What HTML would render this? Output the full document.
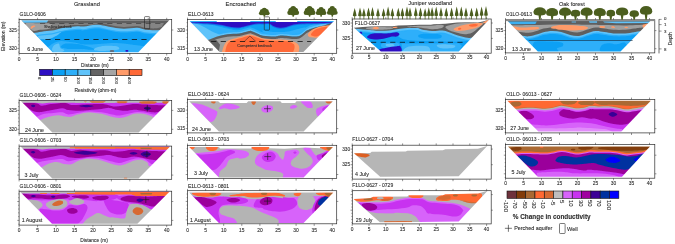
<!DOCTYPE html>
<html><head><meta charset="utf-8"><title>Resistivity panels</title>
<style>
html,body{margin:0;padding:0;background:#fff;}
svg{display:block;font-family:"Liberation Sans",sans-serif;}
text{stroke:#333;stroke-width:0.1px;}
</style></head>
<body>
<svg width="675" height="244" viewBox="0 0 675 244">
<defs>
<filter id="bl" x="-2%" y="-2%" width="104%" height="104%"><feGaussianBlur stdDeviation="0.35"/></filter>
<mask id="cpA1" maskUnits="userSpaceOnUse" x="0" y="0" width="675" height="244"><path d="M21.3 20.2L169.3 20.2L138.3 52.2L52.6 52.2Z" fill="#fff"/></mask>
<mask id="cpA2" maskUnits="userSpaceOnUse" x="0" y="0" width="675" height="244"><path d="M189.6 21L334 21L303.4 52L219.6 52Z" fill="#fff"/></mask>
<mask id="cpA3" maskUnits="userSpaceOnUse" x="0" y="0" width="675" height="244"><path d="M353.93 27.63L362.81 27.04L370.22 26.44L377.63 26.15L392.44 26.15L398.37 25.56L407.26 25.26L419.11 24.67L430.96 24.67L433.52 24.22L445.37 23.63L457.22 22.44L469.07 22.15L477.96 22.44L483.89 21.26L489.22 19.48L458.7 51.48L380.89 51.48Z" fill="#fff"/></mask>
<mask id="cpA4" maskUnits="userSpaceOnUse" x="0" y="0" width="675" height="244"><path d="M507.2 20.6L650.8 20.6L620.5 51.6L537.8 51.6Z" fill="#fff"/></mask>
<mask id="cpB1" maskUnits="userSpaceOnUse" x="0" y="0" width="675" height="244"><path d="M20.6 100.7L170.1 100.7L138.6 132.5L52.3 132.5Z" fill="#fff"/></mask>
<mask id="cpC1" maskUnits="userSpaceOnUse" x="0" y="0" width="675" height="244"><path d="M20.6 146.5L170.1 146.5L138.6 178.5L52.3 178.5Z" fill="#fff"/></mask>
<mask id="cpD1" maskUnits="userSpaceOnUse" x="0" y="0" width="675" height="244"><path d="M19.8 191.5L169.7 191.5L137.4 223.8L52 223.8Z" fill="#fff"/></mask>
<mask id="cpB2" maskUnits="userSpaceOnUse" x="0" y="0" width="675" height="244"><path d="M189.2 101.2L333 101.2L303.6 131.5L218.9 131.5Z" fill="#fff"/></mask>
<mask id="cpC2" maskUnits="userSpaceOnUse" x="0" y="0" width="675" height="244"><path d="M189.2 147L333 147L303.6 177.6L218.9 177.6Z" fill="#fff"/></mask>
<mask id="cpD2" maskUnits="userSpaceOnUse" x="0" y="0" width="675" height="244"><path d="M189.2 192.4L333.4 192.4L303.6 223L218.9 223Z" fill="#fff"/></mask>
<mask id="cpC3" maskUnits="userSpaceOnUse" x="0" y="0" width="675" height="244"><path d="M353.93 153.19L370.22 152.89L371.7 151.7L405.78 151.41L407.26 150.67L442.81 150.22L445.37 149.19L477.96 148.74L487.15 146.07L458.7 176.3L418.7 176.59L380.15 176.74Z" fill="#fff"/></mask>
<mask id="cpD3" maskUnits="userSpaceOnUse" x="0" y="0" width="675" height="244"><path d="M353.63 199.07L370.22 197.89L373.19 196.7L407.26 196.41L408.74 195.22L442.81 195.22L445.37 194.19L477.96 193.44L487.59 190.78L458.7 221.59L418.7 221.89L379.85 222.19Z" fill="#fff"/></mask>
<mask id="cpB4" maskUnits="userSpaceOnUse" x="0" y="0" width="675" height="244"><path d="M507.4 100.8L650.8 100.8L621.3 131.5L538.4 131.5Z" fill="#fff"/></mask>
<mask id="cpC4" maskUnits="userSpaceOnUse" x="0" y="0" width="675" height="244"><path d="M508 146.6L650 146.6L622 176.8L537.8 176.8Z" fill="#fff"/></mask>
</defs>
<rect width="675" height="244" fill="#fff"/>
<g filter="url(#bl)">
<g mask="url(#cpA1)"><path d="M0 0H675V244H0Z" fill="#0ca0f5"/><path d="M46.51 54.5C30.83 53.01 47.93 47.77 50.1 45.54C52.27 43.32 55.8 41.69 59.54 41.15C63.29 40.6 68.23 41.72 72.57 42.29C76.92 42.86 80.72 44.32 85.6 44.57C90.49 44.81 96.73 44.02 101.89 43.75C107.05 43.48 111.66 42.8 116.55 42.94C121.43 43.07 126.45 43.86 131.21 44.57C135.96 45.27 142.88 45.52 145.05 47.17C147.22 48.83 160.66 53.28 144.23 54.5C127.81 55.72 62.2 55.99 46.51 54.5Z" fill="#2daffa"/><path d="M60.85 47.17C60.3 46.28 63.02 44.08 66.06 43.59C69.1 43.1 75.29 43.7 79.09 44.24C82.89 44.78 86.28 45.92 88.86 46.85C91.44 47.77 95.92 49.43 94.56 49.78C93.2 50.13 84.92 49.1 80.72 48.96C76.51 48.83 72.63 49.26 69.32 48.96C66 48.67 61.39 48.07 60.85 47.17Z" fill="#0ca0f5"/><path d="M95.05 48.15C96.68 47.36 101.56 46.17 105.15 45.87C108.73 45.57 114.32 45.73 116.55 46.36C118.77 46.98 120.4 48.86 118.5 49.62C116.6 50.38 109 50.76 105.15 50.92C101.29 51.08 97.06 51.05 95.37 50.59C93.69 50.13 93.42 48.94 95.05 48.15Z" fill="#5fc3fa"/><path d="M52.21 50.43C51.54 49.21 52.76 46.68 53.84 45.54C54.93 44.4 57.64 43.18 58.73 43.59C59.82 44 59.41 46.85 60.36 47.99C61.31 49.13 64.84 49.62 64.43 50.43C64.02 51.24 59.95 52.87 57.92 52.87C55.88 52.87 52.89 51.65 52.21 50.43Z" fill="#5fc3fa"/><path d="M38.37 30.07C40.27 28.71 45.84 29.26 49.77 29.26C53.71 29.26 60.49 29.26 61.99 30.07C63.48 30.89 60.63 32.76 58.73 34.14C56.83 35.53 53.17 37.51 50.59 38.38C48.01 39.25 45.29 39.52 43.26 39.36C41.22 39.19 39.19 38.95 38.37 37.4C37.56 35.85 36.47 31.43 38.37 30.07Z" fill="#5fc3fa"/><path d="M12.04 36.71C14.01 36.71 20.31 36.69 23.89 36.71C27.47 36.74 30.56 37.06 33.52 36.86C36.48 36.67 38.58 35.92 41.67 35.53C44.75 35.13 49.07 34.99 52.04 34.49C55 34 56.98 33.13 59.44 32.57C61.91 32 63.89 31.5 66.85 31.09C69.81 30.67 74.38 30.17 77.22 30.05C80.06 29.92 80.8 30.59 83.89 30.34C86.98 30.1 92.28 28.69 95.74 28.57C99.2 28.44 101.67 29.13 104.63 29.6C107.59 30.07 110.31 30.89 113.52 31.38C116.73 31.88 119.94 32.52 123.89 32.57C127.84 32.62 133.77 31.53 137.22 31.68C140.68 31.83 141.67 33.04 144.63 33.46C147.59 33.88 151.79 34.15 155 34.2C158.21 34.25 160.43 33.92 163.89 33.75C167.35 33.58 173.77 33.26 175.74 33.16L175.74 15 L12.04 15 Z" fill="#2daffa"/><path d="M12.04 35.51C14.01 35.51 20.31 35.49 23.89 35.51C27.47 35.54 30.56 35.86 33.52 35.66C36.48 35.47 38.58 34.72 41.67 34.33C44.75 33.93 49.07 33.79 52.04 33.29C55 32.8 56.98 31.93 59.44 31.37C61.91 30.8 63.89 30.3 66.85 29.89C69.81 29.47 74.38 28.97 77.22 28.85C80.06 28.72 80.8 29.39 83.89 29.14C86.98 28.9 92.28 27.49 95.74 27.37C99.2 27.24 101.67 27.93 104.63 28.4C107.59 28.87 110.31 29.69 113.52 30.18C116.73 30.68 119.94 31.32 123.89 31.37C127.84 31.42 133.77 30.33 137.22 30.48C140.68 30.63 141.67 31.84 144.63 32.26C147.59 32.68 151.79 32.95 155 33C158.21 33.05 160.43 32.72 163.89 32.55C167.35 32.38 173.77 32.06 175.74 31.96L175.74 15 L12.04 15 Z" fill="#5fc3fa"/><path d="M12.04 32.81C14.01 32.81 20.31 32.79 23.89 32.81C27.47 32.84 30.56 33.16 33.52 32.96C36.48 32.77 38.58 32.02 41.67 31.63C44.75 31.23 49.07 31.09 52.04 30.59C55 30.1 56.98 29.23 59.44 28.67C61.91 28.1 63.89 27.6 66.85 27.19C69.81 26.77 74.38 26.27 77.22 26.15C80.06 26.02 80.8 26.69 83.89 26.44C86.98 26.2 92.28 24.79 95.74 24.67C99.2 24.54 101.67 25.23 104.63 25.7C107.59 26.17 110.31 26.99 113.52 27.48C116.73 27.98 119.94 28.62 123.89 28.67C127.84 28.72 133.77 27.63 137.22 27.78C140.68 27.93 141.67 29.14 144.63 29.56C147.59 29.98 151.79 30.25 155 30.3C158.21 30.35 160.43 30.02 163.89 29.85C167.35 29.68 173.77 29.36 175.74 29.26L175.74 15 L12.04 15 Z" fill="#5f5f5f"/><path d="M25.37 23.63C26.48 22.67 32.78 23.33 37.22 23.33C41.67 23.33 49.27 23.16 52.04 23.63C54.8 24.1 54.31 25.31 53.81 26.15C53.32 26.99 51.35 28.05 49.07 28.67C46.8 29.28 42.65 29.46 40.19 29.85C37.72 30.25 35.86 31.16 34.26 31.04C32.65 30.91 32.04 30.35 30.56 29.11C29.07 27.88 24.26 24.59 25.37 23.63Z" fill="#a0a0a0"/><path d="M52.04 23.33C55.74 23.33 66.6 23.33 74.26 23.33C81.91 23.33 90.43 23.38 97.96 23.33C105.49 23.28 112.16 23.09 119.44 23.04C126.73 22.99 134.26 23.04 141.67 23.04C149.07 23.04 160.19 23.04 163.89 23.04L161.67 26.89C160.56 27.14 157.84 28.22 155 28.37C152.16 28.52 147.59 28.17 144.63 27.78C141.67 27.38 140.68 26.15 137.22 26C133.77 25.85 127.84 26.94 123.89 26.89C119.94 26.84 116.73 26.2 113.52 25.7C110.31 25.21 107.22 24.27 104.63 23.93C102.04 23.58 100.56 23.48 97.96 23.63C95.37 23.78 93.02 24.57 89.07 24.81C85.12 25.06 78.7 24.81 74.26 25.11C69.81 25.41 66.11 26 62.41 26.59C58.7 27.19 53.77 28.32 52.04 28.67Z" fill="#848484"/><path d="M20.93 20.22L48.33 20.22L46.85 22.44L23.89 22.74Z" fill="#5fc3fa"/><path d="M30.56 28.07C30.56 27.65 31.02 26.59 31.59 26.15C32.16 25.7 33.35 25.41 33.96 25.41C34.58 25.41 35.37 25.85 35.3 26.15C35.22 26.44 34.14 26.77 33.52 27.19C32.9 27.6 32.09 28.52 31.59 28.67C31.1 28.81 30.56 28.49 30.56 28.07Z" fill="#ff9b69"/><path d="M125.67 50.15C126.06 49.93 127.64 49.93 128.04 50.15C128.43 50.37 128.43 51.26 128.04 51.48C127.64 51.7 126.06 51.7 125.67 51.48C125.27 51.26 125.27 50.37 125.67 50.15Z" fill="#2d0fc3"/><path d="M110.26 50.44C110.85 50.25 113.22 50.25 113.81 50.44C114.41 50.64 114.41 51.43 113.81 51.63C113.22 51.83 110.85 51.83 110.26 51.63C109.67 51.43 109.67 50.64 110.26 50.44Z" fill="#6e5a5a"/></g>
<g mask="url(#cpA2)"><path d="M0 0H675V244H0Z" fill="#0ca0f5"/><path d="M208.19 36.62C209.67 36 213.86 33.91 217.07 32.92C220.28 31.93 223.74 31.19 227.44 30.7C231.15 30.2 235.84 30.45 239.3 29.96C242.75 29.46 246.21 28.15 248.19 27.73C250.16 27.31 249.67 27.07 251.15 27.44C252.63 27.81 255.1 29.17 257.07 29.96C259.05 30.75 260.04 31.68 263 32.18C265.96 32.67 271.77 32.97 274.85 32.92C277.93 32.87 277.91 31.88 281.48 31.88C285.06 31.88 292.84 33.12 296.3 32.92C299.75 32.72 300.49 31.68 302.22 30.7C303.95 29.71 304.69 28.1 306.67 26.99C308.64 25.88 311.36 24.84 314.07 24.03C316.79 23.21 319.88 22.97 322.96 22.1C326.05 21.24 330.99 19.39 332.59 18.84L332.59 22.44C330.99 22.99 326.05 24.84 322.96 25.7C319.88 26.57 316.79 26.81 314.07 27.63C311.36 28.44 308.64 29.48 306.67 30.59C304.69 31.7 303.95 33.31 302.22 34.3C300.49 35.28 299.75 36.32 296.3 36.52C292.84 36.72 285.06 35.48 281.48 35.48C277.91 35.48 277.93 36.47 274.85 36.52C271.77 36.57 265.96 36.27 263 35.78C260.04 35.28 259.05 34.35 257.07 33.56C255.1 32.77 252.63 31.41 251.15 31.04C249.67 30.67 250.16 30.91 248.19 31.33C246.21 31.75 242.75 33.06 239.3 33.56C235.84 34.05 231.15 33.8 227.44 34.3C223.74 34.79 220.28 35.53 217.07 36.52C213.86 37.51 209.67 39.6 208.19 40.22Z" fill="#2daffa"/><path d="M188 22.2C188.33 20.6 195.67 22.88 200 23.4C204.33 23.92 209.67 24.5 214 25.3C218.33 26.1 222.17 27.22 226 28.2C229.83 29.18 236.5 30.07 237 31.2C237.5 32.33 232.17 33.95 229 35C225.83 36.05 221.33 36.33 218 37.5C214.67 38.67 212.33 42.75 209 42C205.67 41.25 201.5 36.3 198 33C194.5 29.7 187.67 23.8 188 22.2Z" fill="#2daffa"/><path d="M262 30.5C262.83 30.08 270.67 31.83 275 32C279.33 32.17 284.17 32 288 31.5C291.83 31 295.17 29.67 298 29C300.83 28.33 303.67 27.33 305 27.5C306.33 27.67 307.17 29 306 30C304.83 31 301.67 32.67 298 33.5C294.33 34.33 288.67 34.83 284 35C279.33 35.17 273.67 35.25 270 34.5C266.33 33.75 261.17 30.92 262 30.5Z" fill="#2daffa"/><path d="M208.19 38.62C209.67 38 213.86 35.91 217.07 34.92C220.28 33.93 223.74 33.19 227.44 32.7C231.15 32.2 235.84 32.45 239.3 31.96C242.75 31.46 246.21 30.15 248.19 29.73C250.16 29.31 249.67 29.07 251.15 29.44C252.63 29.81 255.1 31.17 257.07 31.96C259.05 32.75 260.04 33.68 263 34.18C265.96 34.67 271.77 34.97 274.85 34.92C277.93 34.87 277.91 33.88 281.48 33.88C285.06 33.88 292.84 35.12 296.3 34.92C299.75 34.72 300.49 33.68 302.22 32.7C303.95 31.71 304.69 30.1 306.67 28.99C308.64 27.88 311.36 26.84 314.07 26.03C316.79 25.21 319.88 24.97 322.96 24.1C326.05 23.24 330.99 21.39 332.59 20.84L332.59 22.44C330.99 22.99 326.05 24.84 322.96 25.7C319.88 26.57 316.79 26.81 314.07 27.63C311.36 28.44 308.64 29.48 306.67 30.59C304.69 31.7 303.95 33.31 302.22 34.3C300.49 35.28 299.75 36.32 296.3 36.52C292.84 36.72 285.06 35.48 281.48 35.48C277.91 35.48 277.93 36.47 274.85 36.52C271.77 36.57 265.96 36.27 263 35.78C260.04 35.28 259.05 34.35 257.07 33.56C255.1 32.77 252.63 31.41 251.15 31.04C249.67 30.67 250.16 30.91 248.19 31.33C246.21 31.75 242.75 33.06 239.3 33.56C235.84 34.05 231.15 33.8 227.44 34.3C223.74 34.79 220.28 35.53 217.07 36.52C213.86 37.51 209.67 39.6 208.19 40.22Z" fill="#5fc3fa"/><path d="M188 22.2C188 21.03 194.17 23.12 197 24C199.83 24.88 202.5 26.25 205 27.5C207.5 28.75 209.5 30.17 212 31.5C214.5 32.83 219.67 34.17 220 35.5C220.33 36.83 216 38.42 214 39.5C212 40.58 210.83 43.42 208 42C205.17 40.58 200.33 34.3 197 31C193.67 27.7 188 23.37 188 22.2Z" fill="#5fc3fa"/><path d="M188.93 20.22L283 20.22L283 22L190.41 22Z" fill="#2daffa"/><path d="M240 20.22L334.81 20.22L331.85 22.15L240 22.15Z" fill="#2daffa"/><path d="M188 22C200 22 235.33 22.02 260 22C284.67 21.98 323.33 21.92 336 21.9L336 23.2C334 23.32 328.33 23.73 324 23.9C319.67 24.07 314.17 24.07 310 24.2C305.83 24.33 302 24.42 299 24.7C296 24.98 294.17 25.37 292 25.9C289.83 26.43 288 27.43 286 27.9C284 28.37 282 28.82 280 28.7C278 28.58 275.67 27.87 274 27.2C272.33 26.53 271.17 25.22 270 24.7C268.83 24.18 268.17 24.13 267 24.1C265.83 24.07 264.5 24.45 263 24.5C261.5 24.55 259.83 24.27 258 24.4C256.17 24.53 254.17 24.85 252 25.3C249.83 25.75 247.33 26.58 245 27.1C242.67 27.62 240.5 28.3 238 28.4C235.5 28.5 232.58 28.12 230 27.7C227.42 27.28 225 26.37 222.5 25.9C220 25.43 217.92 25.18 215 24.9C212.08 24.62 209.5 24.45 205 24.2C200.5 23.95 190.83 23.53 188 23.4Z" fill="#1969e8"/><path d="M188 22.1C200 22.1 235.33 22.12 260 22.1C284.67 22.08 323.33 22.02 336 22L336 22.3C334 22.42 328.33 22.83 324 23C319.67 23.17 314.17 23.17 310 23.3C305.83 23.43 302 23.52 299 23.8C296 24.08 294.17 24.47 292 25C289.83 25.53 288 26.53 286 27C284 27.47 282 27.92 280 27.8C278 27.68 275.67 26.97 274 26.3C272.33 25.63 271.17 24.32 270 23.8C268.83 23.28 268.17 23.23 267 23.2C265.83 23.17 264.5 23.55 263 23.6C261.5 23.65 259.83 23.37 258 23.5C256.17 23.63 254.17 23.95 252 24.4C249.83 24.85 247.33 25.68 245 26.2C242.67 26.72 240.5 27.4 238 27.5C235.5 27.6 232.58 27.22 230 26.8C227.42 26.38 225 25.47 222.5 25C220 24.53 217.92 24.28 215 24C212.08 23.72 209.5 23.55 205 23.3C200.5 23.05 190.83 22.63 188 22.5Z" fill="#2d0fc3"/><path d="M216 20L251 20L250 22.1L217 22.1Z" fill="#fff"/><path d="M275 20L298 20L297 22L276 22Z" fill="#fff"/><path d="M208.19 40.22C209.67 39.6 213.86 37.51 217.07 36.52C220.28 35.53 223.74 34.79 227.44 34.3C231.15 33.8 235.84 34.05 239.3 33.56C242.75 33.06 246.21 31.75 248.19 31.33C250.16 30.91 249.67 30.67 251.15 31.04C252.63 31.41 255.1 32.77 257.07 33.56C259.05 34.35 260.04 35.28 263 35.78C265.96 36.27 271.77 36.57 274.85 36.52C277.93 36.47 277.91 35.48 281.48 35.48C285.06 35.48 292.84 36.72 296.3 36.52C299.75 36.32 300.49 35.28 302.22 34.3C303.95 33.31 304.69 31.7 306.67 30.59C308.64 29.48 311.36 28.44 314.07 27.63C316.79 26.81 319.88 26.57 322.96 25.7C326.05 24.84 330.99 22.99 332.59 22.44L332.59 60 L208.19 60 Z" fill="#5f5f5f"/><path d="M208.19 42.62C209.67 42 213.86 39.91 217.07 38.92C220.28 37.93 223.74 37.19 227.44 36.7C231.15 36.2 235.84 36.45 239.3 35.96C242.75 35.46 246.21 34.15 248.19 33.73C250.16 33.31 249.67 33.07 251.15 33.44C252.63 33.81 255.1 35.17 257.07 35.96C259.05 36.75 260.04 37.68 263 38.18C265.96 38.67 271.77 38.97 274.85 38.92C277.93 38.87 277.91 37.88 281.48 37.88C285.06 37.88 292.84 39.12 296.3 38.92C299.75 38.72 300.49 37.68 302.22 36.7C303.95 35.71 304.69 34.1 306.67 32.99C308.64 31.88 311.36 30.84 314.07 30.03C316.79 29.21 319.88 28.97 322.96 28.1C326.05 27.24 330.99 25.39 332.59 24.84L332.59 60 L208.19 60 Z" fill="#a0a0a0"/><path d="M207.44 39.63L216.33 39.93L220.04 44.67L218.56 52.37L205.22 52.37Z" fill="#5f5f5f"/><path d="M221.81 52.37C222.14 51.33 222.8 48.05 223.74 46.15C224.68 44.25 225.84 42.2 227.44 40.96C229.05 39.73 230.9 39.48 233.37 38.74C235.84 38 239.54 37.21 242.26 36.52C244.98 35.83 247.2 34.59 249.67 34.59C252.14 34.59 254.6 35.83 257.07 36.52C259.54 37.21 261.52 38.25 264.48 38.74C267.44 39.23 272.76 39.36 274.85 39.48C276.94 39.6 274.7 39.36 277.04 39.48C279.38 39.6 285.56 39.56 288.89 40.22C292.22 40.89 295.31 42.25 297.04 43.48C298.77 44.72 299.01 46.15 299.26 47.63C299.51 49.11 298.64 51.58 298.52 52.37Z" fill="#ff9b69"/><path d="M225.22 52.37C225.4 51.46 225.59 48.62 226.26 46.89C226.93 45.16 227.91 43.16 229.22 42C230.53 40.84 231.94 40.64 234.11 39.93C236.28 39.21 239.67 38.4 242.26 37.7C244.85 37.01 247.2 35.78 249.67 35.78C252.14 35.78 254.6 37.01 257.07 37.7C259.54 38.4 261.52 39.43 264.48 39.93C267.44 40.42 272.76 40.54 274.85 40.67C276.94 40.79 274.82 40.54 277.04 40.67C279.25 40.79 285.38 40.84 288.15 41.41C290.91 41.98 292.57 43.04 293.63 44.07C294.69 45.11 294.62 46.25 294.52 47.63C294.42 49.01 293.28 51.58 293.04 52.37Z" fill="#ff6937"/><path d="M307.85 35.48C307.6 34.32 309.09 32.07 311.11 30.59C313.14 29.11 317.41 27.46 320 26.59C322.59 25.73 324.94 25.56 326.67 25.41C328.4 25.26 330.25 24.84 330.37 25.7C330.49 26.57 329.14 28.77 327.41 30.59C325.68 32.42 322.47 35.51 320 36.67C317.53 37.83 314.62 37.75 312.59 37.56C310.57 37.36 308.1 36.64 307.85 35.48Z" fill="#ff9b69"/><path d="M311.11 34C311.65 32.96 313.58 30.69 315.56 29.56C317.53 28.42 320.94 27.58 322.96 27.19C324.99 26.79 327.65 26.25 327.7 27.19C327.75 28.12 325.04 31.28 323.26 32.81C321.48 34.35 318.86 35.88 317.04 36.37C315.21 36.86 313.28 36.17 312.3 35.78C311.31 35.38 310.57 35.04 311.11 34Z" fill="#ff6937"/></g>
<g mask="url(#cpA3)"><path d="M0 0H675V244H0Z" fill="#0ca0f5"/><path d="M400 27C402.92 26.08 408 26.5 414 26.5C420 26.5 430.67 26.5 436 27C441.33 27.5 443 28.25 446 29.5C449 30.75 450.67 33 454 34.5C457.33 36 464.5 37.32 466 38.5C467.5 39.68 467.33 41.1 463 41.6C458.67 42.1 447 41.62 440 41.5C433 41.38 426.67 41.18 421 40.9C415.33 40.62 409.75 40.55 406 39.8C402.25 39.05 400.08 37.7 398.5 36.4C396.92 35.1 396.25 33.57 396.5 32C396.75 30.43 397.08 27.92 400 27Z" fill="#2daffa"/><path d="M401.5 43.6L459 43.2L462 46L458 53L402.5 53Z" fill="#2daffa"/><path d="M420 34.5C422.17 33.83 428.5 33.12 432 33.2C435.5 33.28 439.67 34.17 441 35C442.33 35.83 442.17 37.57 440 38.2C437.83 38.83 431.5 38.97 428 38.8C424.5 38.63 420.33 37.92 419 37.2C417.67 36.48 417.83 35.17 420 34.5Z" fill="#0ca0f5"/><path d="M382 43.4C383.67 42.6 389.17 42.77 392 42.8C394.83 42.83 397.83 42.82 399 43.6C400.17 44.38 400.5 46.7 399 47.5C397.5 48.3 392.83 48.38 390 48.4C387.17 48.42 383.33 48.43 382 47.6C380.67 46.77 380.33 44.2 382 43.4Z" fill="#2daffa"/><path d="M386 44.3C387 43.87 391.67 43.68 393 44C394.33 44.32 395 45.77 394 46.2C393 46.63 388.33 46.92 387 46.6C385.67 46.28 385 44.73 386 44.3Z" fill="#5fc3fa"/><path d="M403 50.5C403.67 49.53 404.83 47.98 407 47.2C409.17 46.42 412.5 45.9 416 45.8C419.5 45.7 426 45.4 428 46.6C430 47.8 432.17 51.93 428 53C423.83 54.07 407.17 53.42 403 53C398.83 52.58 402.33 51.47 403 50.5Z" fill="#5fc3fa"/><path d="M437 45C438 44.37 444 44.32 447 44.4C450 44.48 454 44.9 455 45.5C456 46.1 455.33 47.55 453 48C450.67 48.45 443.67 48.7 441 48.2C438.33 47.7 436 45.63 437 45Z" fill="#5fc3fa"/><path d="M345.04 31.37C346.52 31.42 350.96 31.49 353.93 31.67C356.89 31.84 360.1 32.19 362.81 32.41C365.53 32.63 368 32.78 370.22 33C372.44 33.22 373.68 33.62 376.15 33.74C378.62 33.86 382.32 33.86 385.04 33.74C387.75 33.62 390.22 33.27 392.44 33C394.67 32.73 395.9 32.43 398.37 32.11C400.84 31.79 404.05 31.25 407.26 31.07C410.47 30.9 415.23 30.83 417.63 31.07C420.03 31.32 419.27 32.06 421.67 32.56C424.07 33.05 428.58 33.86 432.04 34.04C435.49 34.21 439.69 33.42 442.41 33.59C445.12 33.77 446.36 34.46 448.33 35.07C450.31 35.69 452.04 36.56 454.26 37.3C456.48 38.04 459.2 38.9 461.67 39.52C464.14 40.14 467.1 40.83 469.07 41C471.05 41.17 469.07 40.8 473.52 40.56C477.96 40.31 492.04 39.69 495.74 39.52L495.74 10 L345.04 10 Z" fill="#2daffa"/><path d="M345.04 30.27C346.52 30.32 350.96 30.39 353.93 30.57C356.89 30.74 360.1 31.09 362.81 31.31C365.53 31.53 368 31.68 370.22 31.9C372.44 32.12 373.68 32.52 376.15 32.64C378.62 32.76 382.32 32.76 385.04 32.64C387.75 32.52 390.22 32.17 392.44 31.9C394.67 31.63 395.9 31.33 398.37 31.01C400.84 30.69 404.05 30.15 407.26 29.97C410.47 29.8 415.23 29.73 417.63 29.97C420.03 30.22 419.27 30.96 421.67 31.46C424.07 31.95 428.58 32.76 432.04 32.94C435.49 33.11 439.69 32.32 442.41 32.49C445.12 32.67 446.36 33.36 448.33 33.97C450.31 34.59 452.04 35.46 454.26 36.2C456.48 36.94 459.2 37.8 461.67 38.42C464.14 39.04 467.1 39.73 469.07 39.9C471.05 40.07 469.07 39.7 473.52 39.46C477.96 39.21 492.04 38.59 495.74 38.42L495.74 10 L345.04 10 Z" fill="#5fc3fa"/><path d="M345.04 28.37C346.52 28.42 350.96 28.49 353.93 28.67C356.89 28.84 360.1 29.19 362.81 29.41C365.53 29.63 368 29.78 370.22 30C372.44 30.22 373.68 30.62 376.15 30.74C378.62 30.86 382.32 30.86 385.04 30.74C387.75 30.62 390.22 30.27 392.44 30C394.67 29.73 395.9 29.43 398.37 29.11C400.84 28.79 404.05 28.25 407.26 28.07C410.47 27.9 415.23 27.83 417.63 28.07C420.03 28.32 419.27 29.06 421.67 29.56C424.07 30.05 428.58 30.86 432.04 31.04C435.49 31.21 439.69 30.42 442.41 30.59C445.12 30.77 446.36 31.46 448.33 32.07C450.31 32.69 452.04 33.56 454.26 34.3C456.48 35.04 459.2 35.9 461.67 36.52C464.14 37.14 467.1 37.83 469.07 38C471.05 38.17 469.07 37.8 473.52 37.56C477.96 37.31 492.04 36.69 495.74 36.52L495.74 10 L345.04 10 Z" fill="#5f5f5f"/><path d="M365.78 28.07C366.27 27.68 368.99 27.09 371.7 26.89C374.42 26.69 378.62 26.79 382.07 26.89C385.53 26.99 390.96 27.14 392.44 27.48C393.93 27.83 393.43 28.57 390.96 28.96C388.49 29.36 381.33 29.8 377.63 29.85C373.93 29.9 370.72 29.56 368.74 29.26C366.77 28.96 365.28 28.47 365.78 28.07Z" fill="#a0a0a0"/><path d="M407.26 26.59C408.99 26.35 415.16 25.85 419.11 25.7C423.06 25.56 427.57 25.85 430.96 25.7C434.35 25.56 437.29 24.81 439.44 24.81C441.6 24.81 443.64 25.11 443.89 25.7C444.14 26.3 442.9 27.78 440.93 28.37C438.95 28.96 435.25 29.36 432.04 29.26C428.83 29.16 424.88 28.17 421.67 27.78C418.46 27.38 414.93 26.99 412.78 26.89C410.62 26.79 409.66 27.23 408.74 27.19C407.82 27.14 405.53 26.84 407.26 26.59Z" fill="#a0a0a0"/><path d="M445.37 26.89C445.62 25.9 448.83 25.26 451.3 24.67C453.77 24.07 457.22 23.65 460.19 23.33C463.15 23.01 466.11 22.79 469.07 22.74C472.04 22.69 475.49 23.09 477.96 23.04C480.43 22.99 483.89 21.56 483.89 22.44C483.89 23.33 479.94 26.64 477.96 28.37C475.99 30.1 474.26 31.83 472.04 32.81C469.81 33.8 467.1 34.3 464.63 34.3C462.16 34.3 459.69 33.43 457.22 32.81C454.75 32.2 451.79 31.58 449.81 30.59C447.84 29.6 445.12 27.88 445.37 26.89Z" fill="#a0a0a0"/><path d="M372.15 28.37C372 27.98 373.75 27.11 374.67 26.89C375.58 26.67 376.91 26.77 377.63 27.04C378.35 27.31 379.31 28.15 378.96 28.52C378.62 28.89 376.69 29.28 375.56 29.26C374.42 29.23 372.3 28.77 372.15 28.37Z" fill="#ff9b69"/><path d="M393.19 27.04C393.83 26.84 396.57 26.62 397.19 26.74C397.8 26.86 397.53 27.58 396.89 27.78C396.25 27.98 393.95 28.05 393.33 27.93C392.72 27.8 392.54 27.23 393.19 27.04Z" fill="#ff9b69"/><path d="M453.52 29.26C453.52 28.57 455.37 27.65 457.22 26.89C459.07 26.12 461.67 25.28 464.63 24.67C467.59 24.05 471.99 23.36 475 23.19C478.01 23.01 482.16 23.01 482.7 23.63C483.25 24.25 480.04 25.98 478.26 26.89C476.48 27.8 474.31 28.49 472.04 29.11C469.77 29.73 467.1 30.27 464.63 30.59C462.16 30.91 459.07 31.26 457.22 31.04C455.37 30.81 453.52 29.95 453.52 29.26Z" fill="#ff9b69"/><path d="M469.07 25.11C469.57 24.67 472.04 24.02 473.52 23.93C475 23.83 477.52 24.15 477.96 24.52C478.41 24.89 477.42 25.8 476.19 26.15C474.95 26.49 471.74 26.77 470.56 26.59C469.37 26.42 468.58 25.56 469.07 25.11Z" fill="#ff6937"/><path d="M457.96 28.67C458.16 28.35 459.64 27.73 460.19 27.78C460.73 27.83 461.42 28.64 461.22 28.96C461.02 29.28 459.54 29.75 459 29.7C458.46 29.65 457.77 28.99 457.96 28.67Z" fill="#ff6937"/><path d="M483.15 22.44C483.81 21.85 487.89 19.83 488.63 19.78C489.37 19.73 488.26 21.56 487.59 22.15C486.93 22.74 485.37 23.28 484.63 23.33C483.89 23.38 482.48 23.04 483.15 22.44Z" fill="#ff9b69"/><path d="M367.26 36.52C368 35.73 369.98 34.05 373.19 33.56C376.4 33.06 383.31 33.68 386.52 33.56C389.73 33.43 390.72 33.01 392.44 32.81C394.17 32.62 395.73 32.12 396.89 32.37C398.05 32.62 399.41 33.6 399.41 34.3C399.41 34.99 398.3 36.12 396.89 36.52C395.48 36.91 393.19 36.3 390.96 36.67C388.74 37.04 386.27 38.27 383.56 38.74C380.84 39.21 377.14 39.56 374.67 39.48C372.2 39.41 369.98 38.79 368.74 38.3C367.51 37.8 366.52 37.31 367.26 36.52Z" fill="#2d0fc3"/><path d="M379.41 49.41C380.35 48.62 383.6 48.17 386.52 47.63C389.43 47.09 394.59 46.37 396.89 46.15C399.19 45.93 399.73 45.26 400.3 46.3C400.86 47.33 403.53 51.36 400.3 52.37C397.06 53.38 384.37 52.86 380.89 52.37C377.41 51.88 378.47 50.2 379.41 49.41Z" fill="#2d0fc3"/><path d="M359.56 32.22C359.73 31.93 361.16 31.73 361.63 31.93C362.1 32.12 362.54 33.11 362.37 33.41C362.2 33.7 361.06 33.9 360.59 33.7C360.12 33.51 359.38 32.52 359.56 32.22Z" fill="#2d0fc3"/></g>
<g mask="url(#cpA4)"><path d="M0 0H675V244H0Z" fill="#0ca0f5"/><path d="M519.78 40.22C533.48 40.22 579.49 40.22 602 40.22C624.51 40.22 646.01 40.22 654.81 40.22L654.81 60 L519.78 60 Z" fill="#2daffa"/><path d="M533.85 42.44C535.58 40.62 541.88 41.41 546.44 41.41C551.01 41.41 558.54 41.65 561.26 42.44C563.98 43.23 563.48 45.16 562.74 46.15C562 47.14 557.68 47.33 556.81 48.37C555.95 49.41 561.01 51.7 557.56 52.37C554.1 53.04 540.02 54.02 536.07 52.37C532.12 50.72 532.12 44.27 533.85 42.44Z" fill="#0ca0f5"/><path d="M601.48 45.41C602.59 43.88 606.42 43.36 608.89 43.19C611.36 43.01 613.58 44.42 616.3 44.37C619.01 44.32 623.46 41.56 625.19 42.89C626.91 44.22 630.49 50.79 626.67 52.37C622.84 53.95 606.42 53.53 602.22 52.37C598.02 51.21 600.37 46.94 601.48 45.41Z" fill="#0ca0f5"/><path d="M499.04 36.9C501.01 36.95 507.31 36.95 510.89 37.2C514.47 37.44 517.56 38.04 520.52 38.38C523.48 38.73 525.83 39.47 528.67 39.27C531.51 39.07 535.09 37.89 537.56 37.2C540.02 36.5 541.01 35.67 543.48 35.12C545.95 34.58 549.41 33.96 552.37 33.94C555.33 33.91 558.3 34.31 561.26 34.97C564.22 35.64 567.19 37.3 570.15 37.94C573.11 38.58 576.28 39.1 579.04 38.83C581.79 38.55 583.91 37.12 586.67 36.31C589.42 35.49 592.59 34.16 595.56 33.94C598.52 33.71 601.48 34.58 604.44 34.97C607.41 35.37 609.88 36.09 613.33 36.31C616.79 36.53 621.73 36.5 625.19 36.31C628.64 36.11 631.48 35.47 634.07 35.12C636.67 34.78 636.3 34.53 640.74 34.23C645.19 33.94 657.41 33.49 660.74 33.34L660.74 10 L499.04 10 Z" fill="#2daffa"/><path d="M499.04 35.6C501.01 35.65 507.31 35.65 510.89 35.9C514.47 36.14 517.56 36.74 520.52 37.08C523.48 37.43 525.83 38.17 528.67 37.97C531.51 37.77 535.09 36.59 537.56 35.9C540.02 35.2 541.01 34.37 543.48 33.82C545.95 33.28 549.41 32.66 552.37 32.64C555.33 32.61 558.3 33.01 561.26 33.67C564.22 34.34 567.19 36 570.15 36.64C573.11 37.28 576.28 37.8 579.04 37.53C581.79 37.25 583.91 35.82 586.67 35.01C589.42 34.19 592.59 32.86 595.56 32.64C598.52 32.41 601.48 33.28 604.44 33.67C607.41 34.07 609.88 34.79 613.33 35.01C616.79 35.23 621.73 35.2 625.19 35.01C628.64 34.81 631.48 34.17 634.07 33.82C636.67 33.48 636.3 33.23 640.74 32.93C645.19 32.64 657.41 32.19 660.74 32.04L660.74 10 L499.04 10 Z" fill="#5fc3fa"/><path d="M499.04 34C501.01 34.05 507.31 34.05 510.89 34.3C514.47 34.54 517.56 35.14 520.52 35.48C523.48 35.83 525.83 36.57 528.67 36.37C531.51 36.17 535.09 34.99 537.56 34.3C540.02 33.6 541.01 32.77 543.48 32.22C545.95 31.68 549.41 31.06 552.37 31.04C555.33 31.01 558.3 31.41 561.26 32.07C564.22 32.74 567.19 34.4 570.15 35.04C573.11 35.68 576.28 36.2 579.04 35.93C581.79 35.65 583.91 34.22 586.67 33.41C589.42 32.59 592.59 31.26 595.56 31.04C598.52 30.81 601.48 31.68 604.44 32.07C607.41 32.47 609.88 33.19 613.33 33.41C616.79 33.63 621.73 33.6 625.19 33.41C628.64 33.21 631.48 32.57 634.07 32.22C636.67 31.88 636.3 31.63 640.74 31.33C645.19 31.04 657.41 30.59 660.74 30.44L660.74 10 L499.04 10 Z" fill="#5f5f5f"/><path d="M510.89 25.41C514.35 25.36 523.23 25.26 531.63 25.11C540.02 24.96 551.38 24.57 561.26 24.52C571.14 24.47 583.69 24.72 590.89 24.81C598.09 24.91 598.48 25.01 604.44 25.11C610.41 25.21 619.26 25.51 626.67 25.41C634.07 25.31 645.19 24.67 648.89 24.52L660.74 26.84C657.41 26.99 645.19 27.44 640.74 27.73C636.3 28.03 636.67 28.28 634.07 28.62C631.48 28.97 628.64 29.61 625.19 29.81C621.73 30 616.79 30.03 613.33 29.81C609.88 29.59 607.41 28.87 604.44 28.47C601.48 28.08 598.52 27.21 595.56 27.44C592.59 27.66 589.42 28.99 586.67 29.81C583.91 30.62 581.79 32.05 579.04 32.33C576.28 32.6 573.11 32.08 570.15 31.44C567.19 30.8 564.22 29.14 561.26 28.47C558.3 27.81 555.33 27.41 552.37 27.44C549.41 27.46 545.95 28.08 543.48 28.62C541.01 29.17 540.02 30 537.56 30.7C535.09 31.39 531.51 32.57 528.67 32.77C525.83 32.97 523.48 32.23 520.52 31.88C517.56 31.54 514.47 30.94 510.89 30.7C507.31 30.45 501.01 30.45 499.04 30.4Z" fill="#a0a0a0"/><path d="M507.63 21.56L536.81 21.56L535.33 23.93L510.15 24.22Z" fill="#3caff0"/><path d="M571.63 21.56L576.07 21.56L576.07 22.44L571.63 22.44Z" fill="#5fc3fa"/><path d="M588.89 21.26L597.04 21.26L597.04 22.74L589.63 22.74Z" fill="#5fc3fa"/><path d="M602.96 21.56L650.37 21.56L648.89 23.04L616.3 23.19L604.44 22.59Z" fill="#5fc3fa"/><path d="M512.67 26.3C513.53 25.95 517.11 27.36 521.26 27.48C525.41 27.6 534.89 26.74 537.56 27.04C540.22 27.33 539.98 28.72 537.26 29.26C534.54 29.8 524.79 30.25 521.26 30.3C517.73 30.35 517.51 30.22 516.07 29.56C514.64 28.89 511.8 26.64 512.67 26.3Z" fill="#ff9b69"/><path d="M551.63 26.89C553.11 26.32 557.68 25.31 561.26 25.11C564.84 24.91 568.86 25.41 573.11 25.7C577.36 26 584.72 26.25 586.74 26.89C588.77 27.53 587.53 28.99 585.26 29.56C582.99 30.12 577.11 30.35 573.11 30.3C569.11 30.25 564.72 29.56 561.26 29.26C557.8 28.96 553.98 28.91 552.37 28.52C550.77 28.12 550.15 27.46 551.63 26.89Z" fill="#ff9b69"/><path d="M557.78 25.7C560.62 25.01 569.95 25.21 574.81 25.41C579.68 25.6 585.19 26.27 586.96 26.89C588.74 27.51 587.51 28.54 585.48 29.11C583.46 29.68 579.43 30.22 574.81 30.3C570.2 30.37 560.62 30.32 557.78 29.56C554.94 28.79 554.94 26.4 557.78 25.7Z" fill="#ff9b69"/><path d="M599.7 26.15C600.4 25.88 603.6 25.88 604.44 26.15C605.28 26.42 605.43 27.51 604.74 27.78C604.05 28.05 601.14 28.05 600.3 27.78C599.46 27.51 599.01 26.42 599.7 26.15Z" fill="#ff9b69"/><path d="M611.11 27.48C610.77 27.16 612.37 25.93 613.04 26C613.7 26.07 615.43 27.68 615.11 27.93C614.79 28.17 611.46 27.8 611.11 27.48Z" fill="#ff9b69"/><path d="M624.89 26.89C625.33 26.69 627.11 26.69 627.56 26.89C628 27.09 628 27.88 627.56 28.07C627.11 28.27 625.33 28.27 624.89 28.07C624.44 27.88 624.44 27.09 624.89 26.89Z" fill="#ff9b69"/><path d="M642.67 25.11C643.41 24.42 647.48 23.58 648.15 23.93C648.81 24.27 647.41 26.49 646.67 27.19C645.93 27.88 644.37 28.42 643.7 28.07C643.04 27.73 641.93 25.8 642.67 25.11Z" fill="#ff9b69"/></g>
<g mask="url(#cpB1)"><path d="M0 0H675V244H0Z" fill="#b4b4b4"/><path d="M23.89 124.93C25.37 124.68 29.94 124.31 32.78 123.44C35.62 122.58 38.21 120.85 40.93 119.74C43.64 118.63 46.23 117.52 49.07 116.78C51.91 116.04 55.25 115.35 57.96 115.3C60.68 115.25 63.15 116.23 65.37 116.48C67.59 116.73 69.32 117.1 71.3 116.78C73.27 116.46 74.75 115.25 77.22 114.56C79.69 113.86 83.52 112.95 86.11 112.63C88.7 112.31 90.19 112.43 92.78 112.63C95.37 112.83 98.7 113.17 101.67 113.81C104.63 114.46 107.59 115.79 110.56 116.48C113.52 117.17 116.73 117.96 119.44 117.96C122.16 117.96 124.38 117.17 126.85 116.48C129.32 115.79 131.54 114.26 134.26 113.81C136.98 113.37 140.19 113.37 143.15 113.81C146.11 114.26 149.94 115.86 152.04 116.48C154.14 117.1 151.54 117.35 155.74 117.52C159.94 117.69 173.64 117.52 177.22 117.52L177.22 90 L23.89 90 Z" fill="#d764fa"/><path d="M22.41 121.22C23.64 120.98 27.35 120.53 29.81 119.74C32.28 118.95 34.75 117.47 37.22 116.48C39.69 115.49 41.91 114.38 44.63 113.81C47.35 113.25 50.56 113.32 53.52 113.07C56.48 112.83 59.94 112.09 62.41 112.33C64.88 112.58 65.86 114.43 68.33 114.56C70.8 114.68 74.26 113.57 77.22 113.07C80.19 112.58 84.01 111.84 86.11 111.59C88.21 111.35 87.22 111.47 89.81 111.59C92.41 111.72 97.96 111.84 101.67 112.33C105.37 112.83 109.07 114.01 112.04 114.56C115 115.1 116.73 115.72 119.44 115.59C122.16 115.47 125.37 114.41 128.33 113.81C131.3 113.22 134.26 112.23 137.22 112.04C140.19 111.84 143.4 112.21 146.11 112.63C148.83 113.05 151.42 114.16 153.52 114.56C155.62 114.95 154.75 114.93 158.7 115C162.65 115.07 174.14 115 177.22 115L177.22 90 L22.41 90 Z" fill="#c832f0"/><path d="M20.93 102.7C22.41 102.7 27.1 102.58 29.81 102.7C32.53 102.83 35.25 102.95 37.22 103.44C39.2 103.94 39.69 105.54 41.67 105.67C43.64 105.79 46.11 104.6 49.07 104.19C52.04 103.77 56.73 103.4 59.44 103.15C62.16 102.9 63.4 102.41 65.37 102.7C67.35 103 68.83 104.6 71.3 104.93C73.77 105.25 77.1 104.75 80.19 104.63C83.27 104.51 85.74 104.26 89.81 104.19C93.89 104.11 100.68 103.81 104.63 104.19C108.58 104.56 110.56 106.16 113.52 106.41C116.48 106.65 119.44 106.04 122.41 105.67C125.37 105.3 128.33 104.43 131.3 104.19C134.26 103.94 136.73 104.06 140.19 104.19C143.64 104.31 147.1 104.75 152.04 104.93C156.98 105.1 166.85 105.17 169.81 105.22L163.89 109.37C162.9 109.81 159.94 111.54 157.96 112.04C155.99 112.53 154.51 112.53 152.04 112.33C149.57 112.14 146.11 111.3 143.15 110.85C140.19 110.41 137.22 109.67 134.26 109.67C131.3 109.67 128.09 110.78 125.37 110.85C122.65 110.93 120.68 110.6 117.96 110.11C115.25 109.62 111.79 108.06 109.07 107.89C106.36 107.72 104.88 108.7 101.67 109.07C98.46 109.44 93.64 109.81 89.81 110.11C85.99 110.41 82.28 110.85 78.7 110.85C75.12 110.85 71.05 110.56 68.33 110.11C65.62 109.67 65.12 108.19 62.41 108.19C59.69 108.19 55.49 109.47 52.04 110.11C48.58 110.75 44.63 111.79 41.67 112.04C38.7 112.28 36.23 112.04 34.26 111.59C32.28 111.15 30.8 109.99 29.81 109.37C28.83 108.75 28.58 108.14 28.33 107.89Z" fill="#9b009b"/><path d="M31 105.81C30.95 105.4 32.36 104.78 33.07 104.78C33.79 104.78 35.25 105.4 35.3 105.81C35.35 106.23 34.09 107.3 33.37 107.3C32.65 107.3 31.05 106.23 31 105.81Z" fill="#370096"/><path d="M79 106.11C78.95 105.74 83.64 105.07 86.11 105.07C88.58 105.07 93.77 105.74 93.81 106.11C93.86 106.48 88.88 107.3 86.41 107.3C83.94 107.3 79.05 106.48 79 106.11Z" fill="#370096"/><path d="M144.04 108.19C143.99 107.54 146.16 106.41 147.3 106.41C148.43 106.41 150.8 107.54 150.85 108.19C150.9 108.83 148.73 110.26 147.59 110.26C146.46 110.26 144.09 108.83 144.04 108.19Z" fill="#370096"/><path d="M20.93 100.48L115 100.48L115 102.78L49.07 102.78L42.41 103.59L35.74 102.78L20.93 102.78Z" fill="#b8bab8"/><path d="M75 100.48L175 100.48L175 102.78L75 102.78Z" fill="#b8bab8"/><path d="M83.89 101.52C84.23 101.42 86.51 101.42 86.85 101.52C87.2 101.62 86.21 101.96 85.96 102.11C85.72 102.26 85.57 102.41 85.37 102.41C85.17 102.41 85.02 102.26 84.78 102.11C84.53 101.96 83.54 101.62 83.89 101.52Z" fill="#d76932"/><path d="M90.56 101.37C92.75 101.2 102.43 101.2 104.63 101.37C106.83 101.54 104.91 102.19 103.74 102.41C102.57 102.63 99.64 102.7 97.59 102.7C95.54 102.7 92.62 102.63 91.44 102.41C90.27 102.19 88.36 101.54 90.56 101.37Z" fill="#d76932"/><path d="M117.22 101.52C118.68 101.27 125.4 101.27 126.85 101.52C128.31 101.77 126.77 102.7 125.96 103C125.16 103.3 123.35 103.3 122.04 103.3C120.73 103.3 118.91 103.3 118.11 103C117.31 102.7 115.77 101.77 117.22 101.52Z" fill="#d76932"/><path d="M140.19 101.52C142.63 101.2 153.3 101.2 155.74 101.52C158.19 101.84 156.15 103.07 154.85 103.44C153.56 103.81 150.26 103.74 147.96 103.74C145.67 103.74 142.37 103.81 141.07 103.44C139.78 103.07 137.74 101.84 140.19 101.52Z" fill="#d76932"/><path d="M162.41 101.52C163.3 101.2 167.74 101.2 168.63 101.52C169.52 101.84 168.26 103.07 167.74 103.44C167.22 103.81 166.26 103.74 165.52 103.74C164.78 103.74 163.81 103.81 163.3 103.44C162.78 103.07 161.52 101.84 162.41 101.52Z" fill="#d76932"/></g>
<g mask="url(#cpC1)"><path d="M0 0H675V244H0Z" fill="#b4b4b4"/><path d="M23.89 172.41C25.37 172.16 29.81 171.79 32.78 170.93C35.74 170.06 38.95 168.46 41.67 167.22C44.38 165.99 46.6 164.38 49.07 163.52C51.54 162.65 54.01 161.96 56.48 162.04C58.95 162.11 61.42 163.59 63.89 163.96C66.36 164.33 69.07 164.7 71.3 164.26C73.52 163.81 75 162.16 77.22 161.3C79.44 160.43 82.04 159.44 84.63 159.07C87.22 158.7 89.94 158.83 92.78 159.07C95.62 159.32 98.7 159.81 101.67 160.56C104.63 161.3 107.59 162.7 110.56 163.52C113.52 164.33 116.73 165.44 119.44 165.44C122.16 165.44 124.38 164.33 126.85 163.52C129.32 162.7 131.79 161.17 134.26 160.56C136.73 159.94 139.44 159.44 141.67 159.81C143.89 160.19 145.99 161.67 147.59 162.78C149.2 163.89 146.36 165.86 151.3 166.48C156.23 167.1 172.9 166.48 177.22 166.48L177.22 140 L23.89 140 Z" fill="#d764fa"/><path d="M22.41 167.96C23.64 167.72 27.35 167.35 29.81 166.48C32.28 165.62 34.75 163.69 37.22 162.78C39.69 161.86 41.91 161.49 44.63 161C47.35 160.51 50.56 160.14 53.52 159.81C56.48 159.49 59.94 158.83 62.41 159.07C64.88 159.32 65.86 161.22 68.33 161.3C70.8 161.37 74.26 160.06 77.22 159.52C80.19 158.98 84.01 158.36 86.11 158.04C88.21 157.72 87.22 157.49 89.81 157.59C92.41 157.69 97.96 157.96 101.67 158.63C105.37 159.3 109.07 160.85 112.04 161.59C115 162.33 116.73 163.25 119.44 163.07C122.16 162.9 125.37 161.35 128.33 160.56C131.3 159.77 134.51 158.58 137.22 158.33C139.94 158.09 142.41 158.21 144.63 159.07C146.85 159.94 148.95 162.7 150.56 163.52C152.16 164.33 149.81 163.89 154.26 163.96C158.7 164.04 173.4 163.96 177.22 163.96L177.22 140 L22.41 140 Z" fill="#c832f0"/><path d="M20.93 148.7C22.41 148.7 27.1 148.58 29.81 148.7C32.53 148.83 35.25 148.95 37.22 149.44C39.2 149.94 39.69 151.54 41.67 151.67C43.64 151.79 46.11 150.6 49.07 150.19C52.04 149.77 56.73 149.4 59.44 149.15C62.16 148.9 63.4 148.41 65.37 148.7C67.35 149 68.83 150.75 71.3 150.93C73.77 151.1 77.1 149.79 80.19 149.74C83.27 149.69 85.74 150.56 89.81 150.63C93.89 150.7 100.68 150.01 104.63 150.19C108.58 150.36 110.56 151.49 113.52 151.67C116.48 151.84 119.44 151.54 122.41 151.22C125.37 150.9 128.33 149.91 131.3 149.74C134.26 149.57 136.73 149.99 140.19 150.19C143.64 150.38 147.1 150.75 152.04 150.93C156.98 151.1 166.85 151.17 169.81 151.22L165.37 153.15C164.26 154.26 160.93 158.7 158.7 159.81C156.48 160.93 154.63 160.11 152.04 159.81C149.44 159.52 146.11 158.58 143.15 158.04C140.19 157.49 137.22 156.56 134.26 156.56C131.3 156.56 128.09 157.94 125.37 158.04C122.65 158.14 120.68 157.64 117.96 157.15C115.25 156.65 111.79 155.32 109.07 155.07C106.36 154.83 104.88 155.37 101.67 155.67C98.46 155.96 93.64 156.46 89.81 156.85C85.99 157.25 82.28 157.99 78.7 158.04C75.12 158.09 71.3 157.64 68.33 157.15C65.37 156.65 63.64 155.12 60.93 155.07C58.21 155.02 55.25 156.26 52.04 156.85C48.83 157.44 44.63 158.43 41.67 158.63C38.7 158.83 36.23 158.63 34.26 158.04C32.28 157.44 30.8 155.81 29.81 155.07C28.83 154.33 28.58 153.84 28.33 153.59Z" fill="#9b009b"/><path d="M30.7 152.11C30.65 151.67 32.31 150.93 33.07 150.93C33.84 150.93 35.25 151.67 35.3 152.11C35.35 152.56 34.14 153.59 33.37 153.59C32.6 153.59 30.75 152.56 30.7 152.11Z" fill="#370096"/><path d="M73.96 152.7C73.72 152.06 80.7 150.93 84.63 150.93C88.56 150.93 97.27 152.06 97.52 152.7C97.77 153.35 90.04 154.78 86.11 154.78C82.19 154.78 74.21 153.35 73.96 152.7Z" fill="#370096"/><path d="M129.52 153.3C129.52 152.83 132.19 151.96 133.52 151.96C134.85 151.96 137.52 152.83 137.52 153.3C137.52 153.77 134.85 154.78 133.52 154.78C132.19 154.78 129.52 153.77 129.52 153.3Z" fill="#370096"/><path d="M140.63 154.19C140.58 153.25 144.11 151.52 145.81 151.52C147.52 151.52 150.8 153.25 150.85 154.19C150.9 155.12 147.81 157.15 146.11 157.15C144.41 157.15 140.68 155.12 140.63 154.19Z" fill="#370096"/><path d="M20.93 146.48L115 146.48L115 148.63L49.07 148.63L42.41 149.44L35.74 148.63L20.93 148.63Z" fill="#b8bab8"/><path d="M69.81 147.22L115 147.07L115 148.56L69.81 148.26Z" fill="#f56e32"/><path d="M75 146.93L169.81 146.93L168.63 149.74L140.19 149.44L134.26 148.7L75 148.56Z" fill="#f56e32"/><path d="M140.19 147.81L152.04 147.81L151.3 149L140.93 149Z" fill="#aa6932"/><path d="M123.89 177.74L127.15 177.74L127.15 179.37L123.89 179.37Z" fill="#d76932"/></g>
<g mask="url(#cpD1)"><path d="M0 0H675V244H0Z" fill="#d764fa"/><path d="M20.93 192.96C28.83 192.05 58.58 193.46 74.26 193.7C89.94 193.95 108.21 193.58 115 194.44C121.79 195.31 117.84 197.78 115 198.89C112.16 200 103.02 200.91 97.96 201.11C92.9 201.31 89.07 200.2 84.63 200.07C80.19 199.95 74.51 200.52 71.3 200.37C68.09 200.22 69.81 199.19 65.37 199.19C60.93 199.19 49.57 200.22 44.63 200.37C39.69 200.52 38.7 200.27 35.74 200.07C32.78 199.88 29.32 200.37 26.85 199.19C24.38 198 13.02 193.88 20.93 192.96Z" fill="#c832f0"/><path d="M39.44 210C38.95 207.48 43.77 209.19 46.11 209.26C48.46 209.33 50.8 210.32 53.52 210.44C56.23 210.57 60.19 210.57 62.41 210C64.63 209.43 65.62 207.9 66.85 207.04C68.09 206.17 68.09 205.06 69.81 204.81C71.54 204.57 74.75 205.68 77.22 205.56C79.69 205.43 82.9 203.7 84.63 204.07C86.36 204.44 87.59 205.93 87.59 207.78C87.59 209.63 85.86 212.84 84.63 215.19C83.4 217.53 81.91 220.32 80.19 221.85C78.46 223.38 79.44 223.95 74.26 224.37C69.07 224.79 54.88 226.77 49.07 224.37C43.27 221.98 39.94 212.52 39.44 210Z" fill="#c832f0"/><path d="M103.89 198.89C104.88 197.8 108.95 199.58 112.04 200.07C115.12 200.57 119.64 201.19 122.41 201.85C125.17 202.52 128.01 202.35 128.63 204.07C129.25 205.8 127.64 210.47 126.11 212.22C124.58 213.98 122.04 214.54 119.44 214.59C116.85 214.64 112.78 213.85 110.56 212.52C108.33 211.19 107.22 208.86 106.11 206.59C105 204.32 102.9 199.98 103.89 198.89Z" fill="#c832f0"/><path d="M119.44 195.93C127.1 194.94 163.4 193.95 169.81 195.93C176.23 197.9 160.93 205.43 157.96 207.78C155 210.12 154.26 210.25 152.04 210C149.81 209.75 147.59 207.28 144.63 206.3C141.67 205.31 137.72 204.81 134.26 204.07C130.8 203.33 126.36 203.21 123.89 201.85C121.42 200.49 111.79 196.91 119.44 195.93Z" fill="#c832f0"/><path d="M28.04 200.67C28.04 199.06 33.59 200.05 35.74 200.37C37.89 200.69 39.79 201.73 40.93 202.59C42.06 203.46 42.8 204.57 42.56 205.56C42.31 206.54 40.58 207.78 39.44 208.52C38.31 209.26 37.64 211.31 35.74 210C33.84 208.69 28.04 202.27 28.04 200.67Z" fill="#b4b4b4"/><path d="M46.56 203.04C47.67 201.95 50.88 200.74 53.52 200.07C56.16 199.41 60.14 198.74 62.41 199.04C64.68 199.33 66.51 200.64 67.15 201.85C67.79 203.06 67.3 205.11 66.26 206.3C65.22 207.48 63.3 208.44 60.93 208.96C58.56 209.48 54.38 209.8 52.04 209.41C49.69 209.01 47.77 207.65 46.85 206.59C45.94 205.53 45.44 204.12 46.56 203.04Z" fill="#b4b4b4"/><path d="M69.52 201.26C70.51 200.32 74.9 198.3 77.22 198.15C79.54 198 82.41 199.51 83.44 200.37C84.48 201.23 84.48 202.57 83.44 203.33C82.41 204.1 79.25 204.89 77.22 204.96C75.2 205.04 72.58 204.4 71.3 203.78C70.01 203.16 68.53 202.2 69.52 201.26Z" fill="#b4b4b4"/><path d="M73.81 199.19C74.75 198.35 77.99 198.42 79.44 198.74C80.9 199.06 82.56 200.27 82.56 201.11C82.56 201.95 80.9 203.33 79.44 203.78C77.99 204.22 74.75 204.54 73.81 203.78C72.88 203.01 72.88 200.02 73.81 199.19Z" fill="#b4b4b4"/><path d="M82.41 224.37C83.02 223.58 84.51 221.04 86.11 219.63C87.72 218.22 90.06 217.04 92.04 215.93C94.01 214.81 95.99 213.09 97.96 212.96C99.94 212.84 101.91 214.44 103.89 215.19C105.86 215.93 108.21 217.04 109.81 217.41C111.42 217.78 111.42 217.23 113.52 217.41C115.62 217.58 120.43 218.44 122.41 218.44C124.38 218.44 124.63 218.69 125.37 217.41C126.11 216.12 126.11 212.84 126.85 210.74C127.59 208.64 128.58 206 129.81 204.81C131.05 203.63 132.28 203.63 134.26 203.63C136.23 203.63 139.2 204 141.67 204.81C144.14 205.63 147.1 207.28 149.07 208.52C151.05 209.75 153.02 209.51 153.52 212.22C154.01 214.94 152.28 222.72 152.04 224.81Z" fill="#b4b4b4"/><path d="M52.48 203.63C53.22 202.79 56.31 201.11 57.96 200.67C59.62 200.22 61.62 200.47 62.41 200.96C63.2 201.46 63.44 202.84 62.7 203.63C61.96 204.42 59.49 205.36 57.96 205.7C56.43 206.05 54.43 206.05 53.52 205.7C52.6 205.36 51.74 204.47 52.48 203.63Z" fill="#d76932"/><path d="M132.78 210.3C133.15 209.36 134.51 207.9 135.74 207.48C136.98 207.06 138.93 207.23 140.19 207.78C141.44 208.32 143.05 209.75 143.3 210.74C143.54 211.73 142.68 212.99 141.67 213.7C140.65 214.42 138.58 215.14 137.22 215.04C135.86 214.94 134.26 213.9 133.52 213.11C132.78 212.32 132.41 211.23 132.78 210.3Z" fill="#d76932"/><path d="M22.11 193.7C23.1 193.31 27.05 194.32 29.81 194.44C32.58 194.57 35.74 194.32 38.7 194.44C41.67 194.57 44.63 195.06 47.59 195.19C50.56 195.31 53.52 195.31 56.48 195.19C59.44 195.06 63.1 194.27 65.37 194.44C67.64 194.62 70.11 195.58 70.11 196.22C70.11 196.86 67.64 197.83 65.37 198.3C63.1 198.77 59.2 198.86 56.48 199.04C53.77 199.21 51.54 199.41 49.07 199.33C46.6 199.26 44.14 198.79 41.67 198.59C39.2 198.4 36.48 198.12 34.26 198.15C32.04 198.17 30.06 198.96 28.33 198.74C26.6 198.52 24.93 197.65 23.89 196.81C22.85 195.98 21.12 194.1 22.11 193.7Z" fill="#9b009b"/><path d="M72.04 195.93C73.52 195.48 81.74 194.99 84.63 195.19C87.52 195.38 89.37 196.52 89.37 197.11C89.37 197.7 86.9 198.62 84.63 198.74C82.36 198.86 77.84 198.32 75.74 197.85C73.64 197.38 70.56 196.37 72.04 195.93Z" fill="#9b009b"/><path d="M93.22 196.96C95.32 196.4 104.38 195.65 106.85 195.93C109.32 196.2 109.02 197.88 108.04 198.59C107.05 199.31 103.22 200.1 100.93 200.22C98.63 200.35 95.54 199.88 94.26 199.33C92.98 198.79 91.12 197.53 93.22 196.96Z" fill="#9b009b"/><path d="M67.3 209.56C67.91 208.77 70.48 207.98 72.04 207.93C73.59 207.88 75.74 208.54 76.63 209.26C77.52 209.98 78.01 211.46 77.37 212.22C76.73 212.99 74.28 213.78 72.78 213.85C71.27 213.93 69.25 213.38 68.33 212.67C67.42 211.95 66.68 210.35 67.3 209.56Z" fill="#9b009b"/><path d="M94.26 196.96C95.74 196.4 102.36 195.73 104.63 195.93C106.9 196.12 108.14 197.51 107.89 198.15C107.64 198.79 105.17 199.58 103.15 199.78C101.12 199.98 97.22 199.8 95.74 199.33C94.26 198.86 92.78 197.53 94.26 196.96Z" fill="#9b009b"/><path d="M120.63 198.44C121.37 197.68 124.09 196.3 126.85 195.93C129.62 195.56 133.52 196.1 137.22 196.22C140.93 196.35 144.26 196.67 149.07 196.67C153.89 196.67 164.51 195.06 166.11 196.22C167.72 197.38 160.75 201.9 158.7 203.63C156.65 205.36 155.91 206.37 153.81 206.59C151.72 206.81 148.88 205.6 146.11 204.96C143.35 204.32 140.19 203.28 137.22 202.74C134.26 202.2 130.8 202.07 128.33 201.7C125.86 201.33 123.69 201.06 122.41 200.52C121.12 199.98 119.89 199.21 120.63 198.44Z" fill="#9b009b"/><path d="M30.7 196.07C30.7 195.7 32.48 195.04 33.37 195.04C34.26 195.04 36.04 195.7 36.04 196.07C36.04 196.44 34.26 197.26 33.37 197.26C32.48 197.26 30.7 196.44 30.7 196.07Z" fill="#370096"/><path d="M51 196.67C51 196.35 52.51 195.78 53.22 195.78C53.94 195.78 55.3 196.35 55.3 196.67C55.3 196.99 53.94 197.7 53.22 197.7C52.51 197.7 51 196.99 51 196.67Z" fill="#370096"/><path d="M136.19 200.07C136.19 199.48 138.68 198.44 139.89 198.44C141.1 198.44 143.44 199.48 143.44 200.07C143.44 200.67 141.1 202 139.89 202C138.68 202 136.19 200.67 136.19 200.07Z" fill="#370096"/><path d="M19.44 191.19L115 191.19L115 193.41L19.44 193.41Z" fill="#b8bab8"/><path d="M40.19 193.04L46.85 193.04L46.85 194L40.19 194Z" fill="#f56e32"/><path d="M50.56 193.04L59.44 193.04L59.44 194L50.56 194Z" fill="#f56e32"/><path d="M66.85 193.04L92.04 192.81L115 192.22L115 194.44L92.04 194.15L66.85 194Z" fill="#f56e32"/><path d="M75 192.22L134.26 191.93L169.81 191.78L168.04 195.93L135.74 195.93L131.3 194.44L75 194.15Z" fill="#ff6932"/><path d="M140.19 192.96L152.33 192.96L151.59 194.59L140.93 194.59Z" fill="#aa6932"/></g>
<g mask="url(#cpB2)"><path d="M0 0H675V244H0Z" fill="#b4b4b4"/><path d="M191.89 103.33C192.88 102.89 198.06 103.63 200.78 104.22C203.49 104.81 205.72 105.83 208.19 106.89C210.65 107.95 214.06 109.6 215.59 110.59C217.12 111.58 217.44 111.46 217.37 112.81C217.3 114.17 216.19 117.21 215.15 118.74C214.11 120.27 212.56 121.95 211.15 122C209.74 122.05 208.43 120.57 206.7 119.04C204.98 117.51 202.75 114.84 200.78 112.81C198.8 110.79 196.33 108.47 194.85 106.89C193.37 105.31 190.9 103.78 191.89 103.33Z" fill="#d764fa"/><path d="M219 107.78C219.49 107.01 221.59 105.38 223 104.67C224.41 103.95 225.72 103.56 227.44 103.48C229.17 103.41 231.32 103.65 233.37 104.22C235.42 104.79 239.25 106.12 239.74 106.89C240.23 107.65 237.89 108.4 236.33 108.81C234.78 109.23 232.38 109.51 230.41 109.41C228.43 109.31 226.21 108.25 224.48 108.22C222.75 108.2 220.95 109.33 220.04 109.26C219.12 109.19 218.51 108.54 219 107.78Z" fill="#d764fa"/><path d="M261.22 108.67C261.59 107.53 264.19 106 265.96 105.56C267.74 105.11 270.73 105.41 271.89 106C273.05 106.59 273.42 108.05 272.93 109.11C272.43 110.17 270.46 111.83 268.93 112.37C267.4 112.91 265.02 112.99 263.74 112.37C262.46 111.75 260.85 109.8 261.22 108.67Z" fill="#d764fa"/><path d="M290.07 106.89C290.44 106.3 292.12 105.21 293.33 105.11C294.54 105.01 297.09 105.75 297.33 106.3C297.58 106.84 295.85 107.98 294.81 108.37C293.78 108.77 291.9 108.91 291.11 108.67C290.32 108.42 289.7 107.48 290.07 106.89Z" fill="#d764fa"/><path d="M301.19 101.26C302.22 100.67 307.98 100.32 309.93 101.26C311.88 102.2 313.19 105.78 312.89 106.89C312.59 108 309.68 108.27 308.15 107.93C306.62 107.58 304.86 105.93 303.7 104.81C302.54 103.7 300.15 101.85 301.19 101.26Z" fill="#d764fa"/><path d="M316 110.15C316.25 108.57 317.73 107.78 320 106.89C322.27 106 328.59 104.27 329.63 104.81C330.67 105.36 328.07 108.22 326.22 110.15C324.37 112.07 320.22 116.37 318.52 116.37C316.81 116.37 315.75 111.73 316 110.15Z" fill="#d764fa"/><path d="M322.37 108.67C322.81 107.88 324.84 106.79 325.93 106.3C327.01 105.8 328.77 105.21 328.89 105.7C329.01 106.2 327.6 108.37 326.67 109.26C325.73 110.15 323.98 111.14 323.26 111.04C322.54 110.94 321.93 109.46 322.37 108.67Z" fill="#c832f0"/><path d="M217.37 100.22L248.93 100.22L246.7 102.89L220.04 102.89Z" fill="#fff"/><path d="M279.7 100.22L297.04 100.22L295.11 102.89L281.78 102.89Z" fill="#fff"/><path d="M211.15 101.56C211.69 101.26 214.98 101.28 215.59 101.56C216.21 101.83 215.4 102.89 214.85 103.19C214.31 103.48 212.95 103.6 212.33 103.33C211.72 103.06 210.6 101.85 211.15 101.56Z" fill="#d76932"/><path d="M251.44 101.56C251.99 101.06 255.35 101.06 255.89 101.56C256.43 102.05 255.25 104.02 254.7 104.52C254.16 105.01 253.17 105.01 252.63 104.52C252.09 104.02 250.9 102.05 251.44 101.56Z" fill="#d76932"/><path d="M325.63 101.56C326.47 101.28 331.36 101.28 332.15 101.56C332.94 101.83 331.21 102.91 330.37 103.19C329.53 103.46 327.9 103.46 327.11 103.19C326.32 102.91 324.79 101.83 325.63 101.56Z" fill="#d76932"/></g>
<g mask="url(#cpC2)"><path d="M0 0H675V244H0Z" fill="#b4b4b4"/><path d="M188.93 148.44C187.2 145.48 192.14 152.27 194.85 152.89C197.57 153.51 201.02 152.52 205.22 152.15C209.42 151.78 216.33 151.16 220.04 150.67C223.74 150.17 224.23 149.31 227.44 149.19C230.65 149.06 236.09 149.56 239.3 149.93C242.51 150.3 245.07 150.67 246.7 151.41C248.33 152.15 249.32 153.48 249.07 154.37C248.83 155.26 247.59 156.1 245.22 156.74C242.85 157.38 237.57 157.63 234.85 158.22C232.14 158.81 230.41 158.96 228.93 160.3C227.44 161.63 227.44 164.37 225.96 166.22C224.48 168.07 221.47 169.56 220.04 171.41C218.6 173.26 219.84 177.46 217.37 177.33C214.9 177.21 209.96 175.48 205.22 170.67C200.48 165.85 190.65 151.41 188.93 148.44Z" fill="#d764fa"/><path d="M191.89 152.15C191.15 150.42 194.36 154.12 197.81 154.37C201.27 154.62 208.19 154.12 212.63 153.63C217.07 153.14 221.52 152.02 224.48 151.41C227.44 150.79 228.63 149.8 230.41 149.93C232.19 150.05 235.64 151.04 235.15 152.15C234.65 153.26 229.47 154.99 227.44 156.59C225.42 158.2 224.48 160.05 223 161.78C221.52 163.51 220.28 165.6 218.56 166.96C216.83 168.32 215.35 170.3 212.63 169.93C209.91 169.56 205.72 167.7 202.26 164.74C198.8 161.78 192.63 153.88 191.89 152.15Z" fill="#c832f0"/><path d="M254.85 161.78C254.85 160.17 255.72 157.58 257.07 155.85C258.43 154.12 260.78 152.35 263 151.41C265.22 150.47 268.07 149.98 270.41 150.22C272.75 150.47 275.44 151.7 277.04 152.89C278.64 154.07 279.01 156.2 280 157.33C280.99 158.47 282.22 159.95 282.96 159.7C283.7 159.46 284.07 157.23 284.44 155.85C284.81 154.47 284.2 152.35 285.19 151.41C286.17 150.47 288.52 150.52 290.37 150.22C292.22 149.93 294.79 149.31 296.3 149.63C297.8 149.95 299.41 150.99 299.41 152.15C299.41 153.31 297.56 155.23 296.3 156.59C295.04 157.95 292.72 158.94 291.85 160.3C290.99 161.65 290.37 163.51 291.11 164.74C291.85 165.98 294.2 167.06 296.3 167.7C298.4 168.35 301.48 168.84 303.7 168.59C305.93 168.35 308.12 167.36 309.63 166.22C311.14 165.09 312.49 163.26 312.74 161.78C312.99 160.3 312.12 158.81 311.11 157.33C310.1 155.85 307.95 154.42 306.67 152.89C305.38 151.36 302.91 149.06 303.41 148.15C303.9 147.23 308.1 146.86 309.63 147.41C311.16 147.95 311.36 150 312.59 151.41C313.83 152.81 315.31 155.6 317.04 155.85C318.77 156.1 320 154.37 322.96 152.89C325.93 151.41 332.84 145.98 334.81 146.96C336.79 147.95 340 153.38 334.81 158.81C329.63 164.25 312.1 176.1 303.7 179.56C295.31 183.01 287.9 180.54 284.44 179.56C280.99 178.57 284.2 174.99 282.96 173.63C281.73 172.27 279.75 172.02 277.04 171.41C274.32 170.79 269.01 170.42 266.67 169.93C264.33 169.43 264.6 169.19 263 168.44C261.4 167.7 258.43 166.59 257.07 165.48C255.72 164.37 254.85 163.38 254.85 161.78Z" fill="#d764fa"/><path d="M311.41 146.67C312.89 145.88 320.25 146.27 322.96 146.67C325.68 147.06 328 148 327.7 149.04C327.41 150.07 322.91 151.95 321.19 152.89C319.46 153.83 318.52 154.91 317.33 154.67C316.15 154.42 315.06 152.74 314.07 151.41C313.09 150.07 309.93 147.46 311.41 146.67Z" fill="#b4b4b4"/><path d="M261.96 156.59C262.46 155.46 264.31 153.65 265.96 152.89C267.62 152.12 270.26 151.51 271.89 152C273.52 152.49 275.49 154.44 275.74 155.85C275.99 157.26 274.75 159.43 273.37 160.44C271.99 161.46 269.17 162.05 267.44 161.93C265.72 161.8 263.91 160.59 263 159.7C262.09 158.81 261.47 157.73 261.96 156.59Z" fill="#c832f0"/><path d="M238.52 151.11C239.75 150.1 244.17 151.6 245.93 152.15C247.68 152.69 249.04 153.48 249.04 154.37C249.04 155.26 247.68 156.84 245.93 157.48C244.17 158.12 239.75 159.28 238.52 158.22C237.28 157.16 237.28 152.12 238.52 151.11Z" fill="#d764fa"/><path d="M316.74 155.56C317.48 154.37 320.79 153.73 322.96 152.89C325.14 152.05 329.73 149.48 329.78 150.52C329.83 151.56 325.14 157.53 323.26 159.11C321.38 160.69 319.6 160.59 318.52 160C317.43 159.41 316 156.74 316.74 155.56Z" fill="#c832f0"/><path d="M321.93 155.41C322.72 154.44 327.11 152.37 327.7 152.59C328.3 152.81 326.27 155.78 325.48 156.74C324.69 157.7 323.56 158.59 322.96 158.37C322.37 158.15 321.14 156.37 321.93 155.41Z" fill="#9b009b"/><path d="M293.33 152.15C293.51 151.75 295.01 151.28 295.56 151.41C296.1 151.53 296.77 152.49 296.59 152.89C296.42 153.28 295.06 153.9 294.52 153.78C293.98 153.65 293.16 152.54 293.33 152.15Z" fill="#c832f0"/><path d="M218.56 146.22L252.63 146.22L251.15 148.44L220.04 148.44Z" fill="#fff"/><path d="M268.15 146.22L320.74 146.22L320 148.15L305.19 147.56L284.44 148.74L268.89 148.15Z" fill="#fff"/><path d="M189.22 146.96C189.86 146.57 193.86 146.62 194.56 146.96C195.25 147.31 194.01 148.64 193.37 149.04C192.73 149.43 191.4 149.68 190.7 149.33C190.01 148.99 188.58 147.36 189.22 146.96Z" fill="#ff6932"/><path d="M206.41 146.96C207.99 146.47 215.79 146.42 217.37 146.96C218.95 147.51 216.8 149.56 215.89 150.22C214.98 150.89 213.22 151.01 211.89 150.96C210.56 150.91 208.8 150.59 207.89 149.93C206.98 149.26 204.83 147.46 206.41 146.96Z" fill="#ff6932"/><path d="M252.33 146.96C254.73 146.52 266.09 146.42 268.48 146.96C270.88 147.51 268.11 149.56 266.7 150.22C265.3 150.89 262.14 151.06 260.04 150.96C257.94 150.86 255.4 150.3 254.11 149.63C252.83 148.96 249.94 147.41 252.33 146.96Z" fill="#ff6932"/><path d="M320.44 146.96C322.25 146.67 331.38 146.32 333.04 146.96C334.69 147.6 331.56 150.27 330.37 150.81C329.19 151.36 327.28 150.57 325.93 150.22C324.57 149.88 323.14 149.28 322.22 148.74C321.31 148.2 318.64 147.26 320.44 146.96Z" fill="#ff6932"/><path d="M326.37 147.56C327.11 147.21 331.48 147.11 332.15 147.56C332.81 148 331.11 149.88 330.37 150.22C329.63 150.57 328.37 150.07 327.7 149.63C327.04 149.19 325.63 147.9 326.37 147.56Z" fill="#aa6932"/></g>
<g mask="url(#cpD2)"><path d="M0 0H675V244H0Z" fill="#d764fa"/><path d="M190.41 194.93C192.88 190.48 213.86 196.51 220.04 196.7C226.21 196.9 223.74 196.11 227.44 196.11C231.15 196.11 238.8 195.91 242.26 196.7C245.72 197.49 248.19 199.67 248.19 200.85C248.19 202.04 245.72 203.2 242.26 203.81C238.8 204.43 231.02 204.11 227.44 204.56C223.86 205 222.26 205.12 220.78 206.48C219.3 207.84 218.8 209.89 218.56 212.7C218.31 215.52 221.52 221.59 219.3 223.37C217.07 225.15 210.04 228.11 205.22 223.37C200.41 218.63 187.94 199.37 190.41 194.93Z" fill="#c832f0"/><path d="M254.11 206.78C252.88 205.54 254.6 202.38 255.59 200.85C256.58 199.32 257.32 198.33 260.04 197.59C262.75 196.85 268.06 196.6 271.89 196.41C275.72 196.21 280.17 196.16 283 196.41C285.83 196.65 286.92 197.52 288.89 197.89C290.86 198.26 293.43 197.64 294.81 198.63C296.2 199.62 297.43 202.21 297.19 203.81C296.94 205.42 295.46 207 293.33 208.26C291.21 209.52 287.65 210.85 284.44 211.37C281.23 211.89 277.53 211.74 274.07 211.37C270.62 211 265.55 209.67 263.7 209.15C261.86 208.63 264.6 208.65 263 208.26C261.4 207.86 255.35 208.01 254.11 206.78Z" fill="#c832f0"/><path d="M220.93 214.19C220.68 213.69 219.44 212.33 219.44 211.22C219.44 210.11 219.69 208.46 220.93 207.52C222.16 206.58 223.4 205.84 226.85 205.59C230.31 205.35 237.47 205.72 241.67 206.04C245.86 206.36 249.07 206.65 252.04 207.52C255 208.38 256.73 209.99 259.44 211.22C262.16 212.46 265.62 213.81 268.33 214.93C271.05 216.04 274.01 216.9 275.74 217.89C277.47 218.88 278.33 219.74 278.7 220.85C279.07 221.96 278.09 223.94 277.96 224.56L237.96 224.56C237.35 223.57 236.11 219.99 234.26 218.63C232.41 217.27 229.07 217.15 226.85 216.41C224.63 215.67 221.91 214.56 220.93 214.19Z" fill="#b4b4b4"/><path d="M298.22 197.89C298.99 196.68 300.32 195.59 302.22 195.07C304.12 194.56 307.63 194.31 309.63 194.78C311.63 195.25 313.33 196.38 314.22 197.89C315.11 199.4 315.48 202.06 314.96 203.81C314.44 205.57 312.74 207.4 311.11 208.41C309.48 209.42 307.16 210.01 305.19 209.89C303.21 209.77 300.52 208.93 299.26 207.67C298 206.41 297.8 203.96 297.63 202.33C297.46 200.7 297.46 199.1 298.22 197.89Z" fill="#b4b4b4"/><path d="M188.93 191.96L283 191.96L283 198.19L271.89 196.7L260.04 198.19L249.67 198.19L242.26 196.7L231.89 197.15L220.04 196.11L212.63 197.59L197.81 197.3L188.93 194.93Z" fill="#b4b4b4"/><path d="M240 191.96L334.81 191.96L334.81 194.93L322.96 196.41L318.52 195.96L299.26 196.7L285.93 197.59L278.52 196.7L274.07 195.96L266.67 197.15L259.26 199.37L248.89 199.07L240 197.15Z" fill="#b4b4b4"/><path d="M193.67 197.89C194.41 197.27 199.35 196.9 202.26 197.15C205.17 197.4 208.75 198.51 211.15 199.37C213.54 200.23 216.38 201.32 216.63 202.33C216.88 203.35 214.28 204.68 212.63 205.44C210.98 206.21 208.43 207.05 206.7 206.93C204.98 206.8 203.74 205.72 202.26 204.7C200.78 203.69 199.25 201.99 197.81 200.85C196.38 199.72 192.93 198.51 193.67 197.89Z" fill="#9b009b"/><path d="M226.41 199.81C226.41 199.15 228.75 198.46 230.41 198.19C232.06 197.91 234.68 197.86 236.33 198.19C237.99 198.51 240.33 199.44 240.33 200.11C240.33 200.78 237.99 201.84 236.33 202.19C234.68 202.53 232.06 202.58 230.41 202.19C228.75 201.79 226.41 200.48 226.41 199.81Z" fill="#9b009b"/><path d="M259.74 201.59C259.99 200.58 261.59 198.95 263 198.19C264.41 197.42 266.65 196.8 268.19 197C269.72 197.2 271.64 198.33 272.19 199.37C272.73 200.41 272.48 202.23 271.44 203.22C270.41 204.21 267.62 205.12 265.96 205.3C264.31 205.47 262.56 204.88 261.52 204.26C260.48 203.64 259.49 202.6 259.74 201.59Z" fill="#9b009b"/><path d="M312.3 211.22C312.1 209.86 312.47 208.26 312.89 206.78C313.31 205.3 313.75 203.86 314.81 202.33C315.88 200.8 317.65 198.63 319.26 197.59C320.86 196.56 321.85 196.8 324.44 196.11C327.04 195.42 335.56 191.17 334.81 193.44C334.07 195.72 323.46 206.16 320 209.74C316.54 213.32 315.36 214.68 314.07 214.93C312.79 215.17 312.49 212.58 312.3 211.22Z" fill="#c832f0"/><path d="M314.52 209C314.57 207.77 315.19 205.42 315.85 203.81C316.52 202.21 317.33 200.56 318.52 199.37C319.7 198.19 320.74 197.57 322.96 196.7C325.19 195.84 332.35 192.51 331.85 194.19C331.36 195.86 322.72 203.94 320 206.78C317.28 209.62 316.47 210.85 315.56 211.22C314.64 211.59 314.47 210.23 314.52 209Z" fill="#9b009b"/><path d="M317.93 203.52C317.93 202.33 318.91 199.86 320.74 198.63C322.57 197.4 328.22 195.54 328.89 196.11C329.56 196.68 326.1 200.43 324.74 202.04C323.38 203.64 321.88 205.49 320.74 205.74C319.6 205.99 317.93 204.7 317.93 203.52Z" fill="#0032a0"/><path d="M193.07 192.85C196.53 192.28 214.01 192.51 218.56 192.85C223.1 193.2 221.32 194.31 220.33 194.93C219.35 195.54 216.38 196.33 212.63 196.56C208.88 196.78 201.07 196.88 197.81 196.26C194.56 195.64 189.62 193.42 193.07 192.85Z" fill="#ff6932"/><path d="M209.67 193C210.51 192.68 215.02 192.68 215.89 193C216.75 193.32 215.69 194.6 214.85 194.93C214.01 195.25 211.72 195.25 210.85 194.93C209.99 194.6 208.83 193.32 209.67 193Z" fill="#aa6932"/><path d="M230.11 195.22C232.83 194.73 240.73 193.69 248.19 193.3C255.64 192.9 268.68 192.43 274.85 192.85C281.02 193.27 285.72 195.32 285.22 195.81C284.73 196.31 276.09 195.57 271.89 195.81C267.69 196.06 263.74 197.05 260.04 197.3C256.33 197.54 252.63 197.54 249.67 197.3C246.7 197.05 245.22 195.99 242.26 195.81C239.3 195.64 233.91 196.36 231.89 196.26C229.86 196.16 227.4 195.72 230.11 195.22Z" fill="#ff6932"/><path d="M261.22 193C262.14 192.68 266.83 192.68 267.74 193C268.65 193.32 267.62 194.6 266.7 194.93C265.79 195.25 263.17 195.25 262.26 194.93C261.35 194.6 260.31 193.32 261.22 193Z" fill="#aa6932"/><path d="M237.04 194.33C239.01 193.79 242.47 193.25 248.89 193C255.31 192.75 270.32 192.65 275.56 192.85C280.79 193.05 278.74 193.54 280.3 194.19C281.85 194.83 285.19 196.43 284.89 196.7C284.59 196.98 280.32 196.09 278.52 195.81C276.72 195.54 276.05 195 274.07 195.07C272.1 195.15 269.88 196.01 266.67 196.26C263.46 196.51 258.02 196.63 254.81 196.56C251.6 196.48 250.37 195.86 247.41 195.81C244.44 195.77 238.77 196.51 237.04 196.26C235.31 196.01 235.06 194.88 237.04 194.33Z" fill="#ff6932"/><path d="M261.19 193C261.98 192.7 266.15 192.7 266.96 193C267.78 193.3 266.86 194.48 266.07 194.78C265.28 195.07 263.04 195.07 262.22 194.78C261.41 194.48 260.4 193.3 261.19 193Z" fill="#aa6932"/><path d="M293.78 193.44C294.69 192.95 300.07 192.46 301.04 192.85C302 193.25 300.47 195.32 299.56 195.81C298.64 196.31 296.52 196.21 295.56 195.81C294.59 195.42 292.86 193.94 293.78 193.44Z" fill="#ff6932"/><path d="M316.74 192.85C319.33 192.43 332 191.91 334.07 192.56C336.15 193.2 331.04 196.23 329.19 196.7C327.33 197.17 324.74 195.64 322.96 195.37C321.19 195.1 319.56 195.49 318.52 195.07C317.48 194.65 314.15 193.27 316.74 192.85Z" fill="#ff6932"/><path d="M324.89 193C325.88 192.63 331.78 192.53 332.59 193C333.41 193.47 330.77 195.44 329.78 195.81C328.79 196.19 327.48 195.69 326.67 195.22C325.85 194.75 323.9 193.37 324.89 193Z" fill="#aa6932"/></g>
<g mask="url(#cpC3)"><path d="M0 0H675V244H0Z" fill="#b6b6b6"/><path d="M353.93 153.48C354.42 153.01 357.63 152.79 359.85 152.89C362.07 152.99 365.63 153.63 367.26 154.07C368.89 154.52 369.88 154.99 369.63 155.56C369.38 156.12 367.16 157.23 365.78 157.48C364.4 157.73 362.81 157.33 361.33 157.04C359.85 156.74 358.12 156.3 356.89 155.7C355.65 155.11 353.43 153.95 353.93 153.48Z" fill="#dc5f23"/></g>
<g mask="url(#cpD3)"><path d="M0 0H675V244H0Z" fill="#b4b4b4"/><path d="M356.89 202.04C360.35 202.09 372.2 202.41 377.63 202.33C383.06 202.26 386.02 202.09 389.48 201.59C392.94 201.1 394.91 200.04 398.37 199.37C401.83 198.7 406.27 197.84 410.22 197.59C414.17 197.35 419.11 197.4 422.07 197.89C425.04 198.38 425.53 199.94 428 200.56C430.47 201.17 433.99 201.3 436.89 201.59C439.78 201.89 441.98 201.96 445.37 202.33C448.76 202.7 453.52 202.95 457.22 203.81C460.93 204.68 465.12 206.41 467.59 207.52C470.06 208.63 471.3 209.99 472.04 210.48L458.7 223.81C451.86 223.81 424.97 224.93 417.63 223.81C410.29 222.7 416.4 218.85 414.67 217.15C412.94 215.44 412.69 214.19 407.26 213.59C401.83 213 388.25 213.86 382.07 213.59C375.9 213.32 372.2 212.23 370.22 211.96Z" fill="#d764fa"/><path d="M371.7 215.67C372.44 213.84 378.12 213.94 382.07 213.59C386.02 213.25 391.21 213.59 395.41 213.59C399.6 213.59 404.25 213.25 407.26 213.59C410.27 213.94 411.85 214.46 413.48 215.67C415.11 216.88 416.3 219.37 417.04 220.85C417.78 222.33 424.49 223.94 417.93 224.56C411.36 225.17 385.33 226.04 377.63 224.56C369.93 223.07 370.96 217.49 371.7 215.67Z" fill="#b4b4b4"/><path d="M393.52 213.59C395.25 211.74 400.68 213.22 403.89 213.44C407.1 213.67 410.53 214.06 412.78 214.93C415.02 215.79 416.38 217.02 417.37 218.63C418.36 220.23 422.68 223.57 418.7 224.56C414.73 225.54 397.72 226.38 393.52 224.56C389.32 222.73 391.79 215.44 393.52 213.59Z" fill="#b4b4b4"/><path d="M358.37 203.07C361.58 203.2 372.44 203.81 377.63 203.81C382.81 203.81 386.02 203.57 389.48 203.07C392.94 202.58 394.91 201.52 398.37 200.85C401.83 200.19 406.27 199.32 410.22 199.07C414.17 198.83 419.11 198.88 422.07 199.37C425.04 199.86 425.53 201.42 428 202.04C430.47 202.65 433.99 202.78 436.89 203.07C439.78 203.37 442.48 203.57 445.37 203.81C448.27 204.06 451.79 204.06 454.26 204.56C456.73 205.05 458.65 205.79 460.19 206.78C461.72 207.77 462.9 209.86 463.44 210.48L463.44 210.48C462.9 211.22 461.72 213.91 460.19 214.93C458.65 215.94 456.73 216.56 454.26 216.56C451.79 216.56 448.27 215.32 445.37 214.93C442.48 214.53 439.78 214.43 436.89 214.19C433.99 213.94 429.98 214.19 428 213.44C426.02 212.7 426.27 210.98 425.04 209.74C423.8 208.51 422.57 206.78 420.59 206.04C418.62 205.3 415.41 205.05 413.19 205.3C410.96 205.54 410.22 206.9 407.26 207.52C404.3 208.14 399.85 208.63 395.41 209C390.96 209.37 385.04 209.37 380.59 209.74C376.15 210.11 370.72 210.98 368.74 211.22Z" fill="#c832f0"/><path d="M361.63 204.7C361.88 203.67 365.33 203.07 367.26 202.93C369.19 202.78 371.53 203.17 373.19 203.81C374.84 204.46 376.79 205.81 377.19 206.78C377.58 207.74 376.72 208.95 375.56 209.59C374.4 210.23 371.85 210.7 370.22 210.63C368.59 210.56 367.21 210.14 365.78 209.15C364.35 208.16 361.38 205.74 361.63 204.7Z" fill="#9b009b"/><path d="M353.33 199.07C354.32 198.6 360 198.38 362.81 198.19C365.63 197.99 368.37 198.19 370.22 197.89C372.07 197.59 370.42 196.65 373.93 196.41C377.43 196.16 388.25 195.91 391.26 196.41C394.27 196.9 393.04 198.6 392 199.37C390.96 200.14 387.43 200.85 385.04 201C382.64 201.15 379.85 200.26 377.63 200.26C375.41 200.26 374.17 200.75 371.7 201C369.23 201.25 365.28 201.74 362.81 201.74C360.35 201.74 358.47 201.44 356.89 201C355.31 200.56 352.35 199.54 353.33 199.07Z" fill="#ff6932"/><path d="M364 198.78C365.11 198.43 370.37 197.99 371.7 198.19C373.04 198.38 373.11 199.62 372 199.96C370.89 200.31 366.37 200.46 365.04 200.26C363.7 200.06 362.89 199.12 364 198.78Z" fill="#aa6932"/><path d="M377.63 197.15C378.52 196.83 382.07 196.83 382.96 197.15C383.85 197.47 383.85 198.75 382.96 199.07C382.07 199.4 378.52 199.4 377.63 199.07C376.74 198.75 376.74 197.47 377.63 197.15Z" fill="#b4b4b4"/><path d="M381.33 199.37C382.57 198.98 389.48 198.33 390.96 198.48C392.44 198.63 391.46 199.86 390.22 200.26C388.99 200.65 385.04 201 383.56 200.85C382.07 200.7 380.1 199.77 381.33 199.37Z" fill="#d76932"/><path d="M409.19 195.22C410.96 194.8 420.42 194.8 422.37 195.22C424.32 195.64 422.67 197.32 420.89 197.74C419.11 198.16 413.65 198.16 411.7 197.74C409.75 197.32 407.41 195.64 409.19 195.22Z" fill="#ff6932"/><path d="M436.15 199.67C435.9 198.95 436.77 197.37 438.37 196.41C439.98 195.44 443.8 194.31 445.78 193.89C447.75 193.47 449.48 192.83 450.22 193.89C450.96 194.95 451.95 199.12 450.22 200.26C448.49 201.4 442.2 200.8 439.85 200.7C437.51 200.6 436.4 200.38 436.15 199.67Z" fill="#ff6932"/><path d="M409.52 195.22C411.17 194.88 420.75 194.88 422.7 195.22C424.65 195.57 422.88 196.95 421.22 197.3C419.57 197.64 414.73 197.64 412.78 197.3C410.83 196.95 407.86 195.57 409.52 195.22Z" fill="#ff6932"/><path d="M436.19 197.89C436.93 197.25 440.75 196.33 442.41 195.67C444.06 195 440.19 194.31 446.11 193.89C452.04 193.47 471.99 192.98 477.96 193.15C483.94 193.32 481.42 194.14 481.96 194.93C482.51 195.72 482.09 196.63 481.22 197.89C480.36 199.15 478.8 201.84 476.78 202.48C474.75 203.12 471.84 202.11 469.07 201.74C466.31 201.37 463.15 200.58 460.19 200.26C457.22 199.94 454.26 199.81 451.3 199.81C448.33 199.81 444.63 200.31 442.41 200.26C440.19 200.21 439 199.91 437.96 199.52C436.93 199.12 435.44 198.53 436.19 197.89Z" fill="#ff6932"/><path d="M437.67 197.89C438.41 197.3 441.12 196.21 443.15 195.81C445.17 195.42 448.65 195.02 449.81 195.52C450.98 196.01 451.1 198.04 450.11 198.78C449.12 199.52 445.79 199.86 443.89 199.96C441.99 200.06 439.74 199.72 438.7 199.37C437.67 199.02 436.93 198.48 437.67 197.89Z" fill="#d76932"/><path d="M453.22 194.63C453.86 194.36 456.85 194.36 457.52 194.63C458.19 194.9 457.86 195.99 457.22 196.26C456.58 196.53 454.33 196.53 453.67 196.26C453 195.99 452.58 194.9 453.22 194.63Z" fill="#aa6932"/><path d="M471.74 194.63C472.48 194.36 476.04 194.36 476.78 194.63C477.52 194.9 476.93 195.99 476.19 196.26C475.44 196.53 473.07 196.53 472.33 196.26C471.59 195.99 471 194.9 471.74 194.63Z" fill="#aa6932"/><path d="M460.19 199.96C460.43 199.77 466.36 201.05 469.07 201.44C471.79 201.84 475.37 202.04 476.48 202.33C477.59 202.63 477.22 203.17 475.74 203.22C474.26 203.27 470.19 203.17 467.59 202.63C465 202.09 459.94 200.16 460.19 199.96Z" fill="#d76932"/><path d="M384.3 221.15L412 221.15L412 223.37L384.3 223.37Z" fill="#d76932"/><path d="M396.48 221.44L406.56 221.44L406.56 223.37L396.48 223.37Z" fill="#d76932"/></g>
<g mask="url(#cpB4)"><path d="M0 0H675V244H0Z" fill="#c832f0"/><path d="M530.15 124.37C532.86 124.54 541.26 125.48 546.44 125.41C551.63 125.33 556.32 124.42 561.26 123.93C566.2 123.43 571.14 122.57 576.07 122.44C581.01 122.32 586.65 122.69 590.89 123.19C595.12 123.68 597.99 124.67 601.48 125.41C604.98 126.15 608.4 127.01 611.85 127.63C615.31 128.25 620.49 128.86 622.22 129.11L622.22 140 L530.15 140 Z" fill="#d764fa"/><path d="M534.59 128.37C536.57 128.37 542 128.37 546.44 128.37C550.89 128.37 556.32 128.49 561.26 128.37C566.2 128.25 572.58 127.75 576.07 127.63C579.57 127.51 577.49 127.38 582.22 127.63C586.95 127.88 599.26 128.32 604.44 129.11C609.63 129.9 611.85 131.83 613.33 132.37L613.33 140 L534.59 140 Z" fill="#e18cfa"/><path d="M518.74 112.07C519.11 111.19 522.32 110.32 524.22 110.44C526.12 110.57 528.49 111.8 530.15 112.81C531.8 113.83 533.9 115.51 534.15 116.52C534.4 117.53 532.91 118.49 531.63 118.89C530.35 119.28 528.05 119.41 526.44 118.89C524.84 118.37 523.28 116.91 522 115.78C520.72 114.64 518.37 112.96 518.74 112.07Z" fill="#9b009b"/><path d="M559.04 112.81C559.65 112.27 561.14 110.05 562.74 109.56C564.35 109.06 566.44 109.43 568.67 109.85C570.89 110.27 573.36 111.88 576.07 112.07C578.79 112.27 582.49 111.53 584.96 111.04C587.43 110.54 589.62 109.43 590.89 109.11C592.16 108.79 590.33 109.28 592.59 109.11C594.85 108.94 600 108.07 604.44 108.07C608.89 108.07 615.31 108.69 619.26 109.11C623.21 109.53 625.19 110.47 628.15 110.59C631.11 110.72 634.32 110.42 637.04 109.85C639.75 109.28 643.21 107.63 644.44 107.19L628.89 123.48C627.78 123.68 624.81 124.59 622.22 124.67C619.63 124.74 616.3 124.42 613.33 123.93C610.37 123.43 607.41 122.57 604.44 121.7C601.48 120.84 597.81 119.23 595.56 118.74C593.3 118.25 593.15 118.99 590.89 118.74C588.63 118.49 584.96 117.26 582 117.26C579.04 117.26 576.07 118.74 573.11 118.74C570.15 118.74 566.44 117.8 564.22 117.26C562 116.72 560.52 115.78 559.78 115.48Z" fill="#9b009b"/><path d="M608.59 114.3C608.54 113.48 611.14 111.93 612.59 111.93C614.05 111.93 617.28 113.48 617.33 114.3C617.38 115.11 614.35 116.81 612.89 116.81C611.43 116.81 608.64 115.11 608.59 114.3Z" fill="#370096"/><path d="M497.56 111.97C500.52 111.92 510.89 111.87 515.33 111.67C519.78 111.48 520.77 110.93 524.22 110.79C527.68 110.64 532.62 110.64 536.07 110.79C539.53 110.93 542 111.72 544.96 111.67C547.93 111.62 551.14 110.98 553.85 110.49C556.57 110 558.79 108.83 561.26 108.71C563.73 108.59 566.2 109.33 568.67 109.75C571.14 110.17 573.36 111.11 576.07 111.23C578.79 111.35 582.7 110.86 584.96 110.49C587.22 110.12 587.37 109.2 589.63 109.01C591.89 108.81 595.06 109.25 598.52 109.3C601.98 109.35 606.91 109.06 610.37 109.3C613.83 109.55 616.54 110.29 619.26 110.79C621.98 111.28 624.2 112.19 626.67 112.27C629.14 112.34 631.36 111.65 634.07 111.23C636.79 110.81 640.49 110.32 642.96 109.75C645.43 109.18 645.43 108.19 648.89 107.82C652.35 107.45 661.23 107.58 663.7 107.53L663.7 90 L497.56 90 Z" fill="#d764fa"/><path d="M497.56 110.47C500.52 110.42 510.89 110.37 515.33 110.17C519.78 109.98 520.77 109.43 524.22 109.29C527.68 109.14 532.62 109.14 536.07 109.29C539.53 109.43 542 110.22 544.96 110.17C547.93 110.12 551.14 109.48 553.85 108.99C556.57 108.5 558.79 107.33 561.26 107.21C563.73 107.09 566.2 107.83 568.67 108.25C571.14 108.67 573.36 109.61 576.07 109.73C578.79 109.85 582.7 109.36 584.96 108.99C587.22 108.62 587.37 107.7 589.63 107.51C591.89 107.31 595.06 107.75 598.52 107.8C601.98 107.85 606.91 107.56 610.37 107.8C613.83 108.05 616.54 108.79 619.26 109.29C621.98 109.78 624.2 110.69 626.67 110.77C629.14 110.84 631.36 110.15 634.07 109.73C636.79 109.31 640.49 108.82 642.96 108.25C645.43 107.68 645.43 106.69 648.89 106.32C652.35 105.95 661.23 106.08 663.7 106.03L663.7 90 L497.56 90 Z" fill="#b4b4b4"/><path d="M497.56 109.07C500.52 109.02 510.89 108.97 515.33 108.77C519.78 108.58 520.77 108.03 524.22 107.89C527.68 107.74 532.62 107.74 536.07 107.89C539.53 108.03 542 108.82 544.96 108.77C547.93 108.72 551.14 108.08 553.85 107.59C556.57 107.1 558.79 105.93 561.26 105.81C563.73 105.69 566.2 106.43 568.67 106.85C571.14 107.27 573.36 108.21 576.07 108.33C578.79 108.45 582.7 107.96 584.96 107.59C587.22 107.22 587.37 106.3 589.63 106.11C591.89 105.91 595.06 106.35 598.52 106.4C601.98 106.45 606.91 106.16 610.37 106.4C613.83 106.65 616.54 107.39 619.26 107.89C621.98 108.38 624.2 109.29 626.67 109.37C629.14 109.44 631.36 108.75 634.07 108.33C636.79 107.91 640.49 107.42 642.96 106.85C645.43 106.28 645.43 105.29 648.89 104.92C652.35 104.55 661.23 104.68 663.7 104.63L663.7 90 L497.56 90 Z" fill="#d76932"/><path d="M497.56 108.37C500.52 108.32 510.89 108.27 515.33 108.07C519.78 107.88 520.77 107.33 524.22 107.19C527.68 107.04 532.62 107.04 536.07 107.19C539.53 107.33 542 108.12 544.96 108.07C547.93 108.02 551.14 107.38 553.85 106.89C556.57 106.4 558.79 105.23 561.26 105.11C563.73 104.99 566.2 105.73 568.67 106.15C571.14 106.57 573.36 107.51 576.07 107.63C578.79 107.75 582.7 107.26 584.96 106.89C587.22 106.52 587.37 105.6 589.63 105.41C591.89 105.21 595.06 105.65 598.52 105.7C601.98 105.75 606.91 105.46 610.37 105.7C613.83 105.95 616.54 106.69 619.26 107.19C621.98 107.68 624.2 108.59 626.67 108.67C629.14 108.74 631.36 108.05 634.07 107.63C636.79 107.21 640.49 106.72 642.96 106.15C645.43 105.58 645.43 104.59 648.89 104.22C652.35 103.85 661.23 103.98 663.7 103.93L663.7 90 L497.56 90 Z" fill="#ff6932"/><path d="M510.59 102.74C511.58 101.95 516.47 101.36 518.3 101.56C520.12 101.75 521.56 103.14 521.56 103.93C521.56 104.72 519.83 105.9 518.3 106.3C516.77 106.69 513.65 106.89 512.37 106.3C511.09 105.7 509.6 103.53 510.59 102.74Z" fill="#aa6932"/><path d="M560.96 100.67C562.99 100.22 574.3 100.15 576.37 100.67C578.44 101.19 575.43 103.33 573.41 103.78C571.38 104.22 566.3 103.85 564.22 103.33C562.15 102.81 558.94 101.11 560.96 100.67Z" fill="#aa6932"/><path d="M578.74 102.44C580.22 101.9 588.57 101.19 590.89 101.56C593.21 101.93 594.15 104.12 592.67 104.67C591.19 105.21 584.32 105.19 582 104.81C579.68 104.44 577.26 102.99 578.74 102.44Z" fill="#aa6932"/><path d="M561.19 100.67C562.96 100.05 573.04 100.1 575.11 100.67C577.19 101.23 575.41 103.46 573.63 104.07C571.85 104.69 566.52 104.94 564.44 104.37C562.37 103.8 559.41 101.28 561.19 100.67Z" fill="#aa6932"/><path d="M578.96 101.7C580.74 101.06 590.44 100.59 592.89 100.96C595.33 101.33 595.41 103.28 593.63 103.93C591.85 104.57 584.67 105.19 582.22 104.81C579.78 104.44 577.19 102.35 578.96 101.7Z" fill="#aa6932"/><path d="M598.22 100.67C606.86 99.98 643.6 100.12 651.85 100.67C660.1 101.21 649.68 103.11 647.7 103.93C645.73 104.74 643.51 105.23 640 105.56C636.49 105.88 631.36 105.98 626.67 105.85C621.98 105.73 616.3 104.99 611.85 104.81C607.41 104.64 602.27 105.51 600 104.81C597.73 104.12 589.58 101.36 598.22 100.67Z" fill="#aa6932"/></g>
<g mask="url(#cpC4)"><path d="M0 0H675V244H0Z" fill="#9b009b"/><path d="M528.67 169.37C530.64 169.54 536.32 170.48 540.52 170.41C544.72 170.33 549.16 169.3 553.85 168.93C558.54 168.56 563.73 167.94 568.67 168.19C573.6 168.43 579.99 170.16 583.48 170.41C586.98 170.65 586.14 169.54 589.63 169.67C593.12 169.79 600 170.65 604.44 171.15C608.89 171.64 612.84 172.09 616.3 172.63C619.75 173.17 623.7 174.11 625.19 174.41L625.19 190 L528.67 190 Z" fill="#c832f0"/><path d="M536.81 172.63C538.91 172.51 544.84 172.01 549.41 171.89C553.98 171.77 559.78 171.64 564.22 171.89C568.67 172.14 570.6 173.12 576.07 173.37C581.54 173.62 591.07 173.12 597.04 173.37C603 173.62 608.15 174.19 611.85 174.85C615.56 175.52 618.02 176.95 619.26 177.37L619.26 190 L536.81 190 Z" fill="#d764fa"/><path d="M517.26 156.33C517.88 155.69 521.83 155.2 524.22 155.44C526.62 155.69 529.36 156.8 531.63 157.81C533.9 158.83 537.06 160.28 537.85 161.52C538.64 162.75 537.53 164.38 536.37 165.22C535.21 166.06 532.67 166.8 530.89 166.56C529.11 166.31 527.43 164.95 525.7 163.74C523.98 162.53 521.93 160.53 520.52 159.3C519.11 158.06 516.64 156.98 517.26 156.33Z" fill="#0032a0"/><path d="M555.33 160.2C555.83 159.65 556.57 157.63 558.3 156.94C560.02 156.25 562.74 155.95 565.7 156.05C568.67 156.15 572.86 157.53 576.07 157.53C579.28 157.53 582 156.59 584.96 156.05C587.93 155.5 590.6 154.62 593.85 154.27C597.1 153.92 600.21 153.85 604.44 153.97C608.68 154.1 615.31 154.59 619.26 155.01C623.21 155.43 625.19 156.37 628.15 156.49C631.11 156.62 634.2 156.37 637.04 155.75C639.88 155.13 643.83 153.28 645.19 152.79L630.81 167.89C629.88 168.19 627.6 169.57 625.19 169.67C622.77 169.77 619.26 168.98 616.3 168.48C613.33 167.99 610.37 167.37 607.41 166.7C604.44 166.04 600.78 165.1 598.52 164.48C596.26 163.86 596.11 163.12 593.85 163C591.59 162.88 588.42 163.49 584.96 163.74C581.51 163.99 577.06 164.6 573.11 164.48C569.16 164.36 564.1 163.49 561.26 163C558.42 162.51 556.94 161.77 556.07 161.52Z" fill="#0032a0"/><path d="M605.63 159.74C605.75 158.83 608.59 157.27 610.37 156.93C612.15 156.58 614.64 157.07 616.3 157.67C617.95 158.26 620.3 159.64 620.3 160.48C620.3 161.32 618.07 162.38 616.3 162.7C614.52 163.02 611.41 162.9 609.63 162.41C607.85 161.91 605.51 160.65 605.63 159.74Z" fill="#0000ff"/><path d="M633.78 159.59C634.1 158.88 638.05 156.53 638.52 156.78C638.99 157.02 637.38 160.6 636.59 161.07C635.8 161.54 633.46 160.31 633.78 159.59Z" fill="#0000ff"/><path d="M497.56 154.88C500.4 154.83 510.15 154.73 514.59 154.59C519.04 154.44 520.64 154.04 524.22 153.99C527.8 153.94 532.62 154.19 536.07 154.29C539.53 154.39 542 154.71 544.96 154.59C547.93 154.46 551.14 153.97 553.85 153.55C556.57 153.13 558.79 152.14 561.26 152.07C563.73 151.99 566.2 152.68 568.67 153.1C571.14 153.52 573.36 154.51 576.07 154.59C578.79 154.66 582.7 153.89 584.96 153.55C587.22 153.2 587.37 152.63 589.63 152.51C591.89 152.39 595.06 152.76 598.52 152.81C601.98 152.86 606.91 152.61 610.37 152.81C613.83 153 616.54 153.55 619.26 153.99C621.98 154.44 624.2 155.38 626.67 155.47C629.14 155.57 631.36 154.91 634.07 154.59C636.79 154.26 640.49 154.09 642.96 153.55C645.43 153 645.43 151.75 648.89 151.33C652.35 150.91 661.23 151.08 663.7 151.03L663.7 140 L497.56 140 Z" fill="#d764fa"/><path d="M497.56 153.88C500.4 153.83 510.15 153.73 514.59 153.59C519.04 153.44 520.64 153.04 524.22 152.99C527.8 152.94 532.62 153.19 536.07 153.29C539.53 153.39 542 153.71 544.96 153.59C547.93 153.46 551.14 152.97 553.85 152.55C556.57 152.13 558.79 151.14 561.26 151.07C563.73 150.99 566.2 151.68 568.67 152.1C571.14 152.52 573.36 153.51 576.07 153.59C578.79 153.66 582.7 152.89 584.96 152.55C587.22 152.2 587.37 151.63 589.63 151.51C591.89 151.39 595.06 151.76 598.52 151.81C601.98 151.86 606.91 151.61 610.37 151.81C613.83 152 616.54 152.55 619.26 152.99C621.98 153.44 624.2 154.38 626.67 154.47C629.14 154.57 631.36 153.91 634.07 153.59C636.79 153.26 640.49 153.09 642.96 152.55C645.43 152 645.43 150.75 648.89 150.33C652.35 149.91 661.23 150.08 663.7 150.03L663.7 140 L497.56 140 Z" fill="#ff6932"/><path d="M497.56 152.48C500.4 152.43 510.15 152.33 514.59 152.19C519.04 152.04 520.64 151.64 524.22 151.59C527.8 151.54 532.62 151.79 536.07 151.89C539.53 151.99 542 152.31 544.96 152.19C547.93 152.06 551.14 151.57 553.85 151.15C556.57 150.73 558.79 149.74 561.26 149.67C563.73 149.59 566.2 150.28 568.67 150.7C571.14 151.12 573.36 152.11 576.07 152.19C578.79 152.26 582.7 151.49 584.96 151.15C587.22 150.8 587.37 150.23 589.63 150.11C591.89 149.99 595.06 150.36 598.52 150.41C601.98 150.46 606.91 150.21 610.37 150.41C613.83 150.6 616.54 151.15 619.26 151.59C621.98 152.04 624.2 152.98 626.67 153.07C629.14 153.17 631.36 152.51 634.07 152.19C636.79 151.86 640.49 151.69 642.96 151.15C645.43 150.6 645.43 149.35 648.89 148.93C652.35 148.51 661.23 148.68 663.7 148.63L663.7 140 L497.56 140 Z" fill="#aa6932"/><path d="M511.33 147.74C512.57 147.2 518.07 146.75 519.78 147C521.48 147.25 522.05 148.58 521.56 149.22C521.06 149.86 518.35 150.68 516.81 150.85C515.28 151.02 513.28 150.78 512.37 150.26C511.46 149.74 510.1 148.28 511.33 147.74Z" fill="#823c0a"/><path d="M580.22 147.74C581.46 147.2 588.07 146.41 589.41 146.56C590.74 146.7 589.46 148.09 588.22 148.63C586.99 149.17 583.33 149.96 582 149.81C580.67 149.67 578.99 148.28 580.22 147.74Z" fill="#823c0a"/><path d="M571.33 148.93C571.93 148.7 574.3 148.7 574.89 148.93C575.48 149.15 575.48 150.04 574.89 150.26C574.3 150.48 571.93 150.48 571.33 150.26C570.74 150.04 570.74 149.15 571.33 148.93Z" fill="#823c0a"/><path d="M540.22 145.96C540.69 145.69 542.57 145.69 543.04 145.96C543.51 146.23 543.51 147.32 543.04 147.59C542.57 147.86 540.69 147.86 540.22 147.59C539.75 147.32 539.75 146.23 540.22 145.96Z" fill="#ff6932"/><path d="M578.96 147.15C580.99 146.68 591.06 146.19 592.89 146.56C594.72 146.93 591.95 148.9 589.93 149.37C587.9 149.84 582.57 149.74 580.74 149.37C578.91 149 576.94 147.62 578.96 147.15Z" fill="#823c0a"/><path d="M598.96 147.44C601.93 146.98 611.06 146.65 619.26 146.56C627.46 146.46 643.65 146.31 648.15 146.85C652.64 147.4 649.8 149.15 646.22 149.81C642.64 150.48 632.4 150.78 626.67 150.85C620.94 150.93 616.05 150.51 611.85 150.26C607.65 150.01 603.63 149.84 601.48 149.37C599.33 148.9 596 147.91 598.96 147.44Z" fill="#823c0a"/></g>
</g>
<rect x="19.1" y="19.6" width="152.6" height="33.8" fill="none" stroke="#2b2b2b" stroke-width="0.7"/>
<path d="M19.1 19.6v-1.8M19.1 53.4v2.1M37.55 19.6v-1.8M37.55 53.4v2.1M56 19.6v-1.8M56 53.4v2.1M74.45 19.6v-1.8M74.45 53.4v2.1M92.9 19.6v-1.8M92.9 53.4v2.1M111.35 19.6v-1.8M111.35 53.4v2.1M129.8 19.6v-1.8M129.8 53.4v2.1M148.25 19.6v-1.8M148.25 53.4v2.1M166.7 19.6v-1.8M166.7 53.4v2.1M19.1 22.64h-0.9M19.1 26.32h-0.9M19.1 30h-1.8M171.7 30h1.6M19.1 33.68h-0.9M19.1 37.36h-0.9M19.1 41.04h-0.9M19.1 44.72h-0.9M19.1 48.4h-1.8M171.7 48.4h1.6M19.1 52.08h-0.9" stroke="#2b2b2b" stroke-width="0.5" fill="none"/>
<rect x="19.1" y="100.4" width="152.6" height="33.2" fill="none" stroke="#2b2b2b" stroke-width="0.7"/>
<path d="M19.1 100.4v-1.8M19.1 133.6v2.1M37.55 100.4v-1.8M37.55 133.6v2.1M56 100.4v-1.8M56 133.6v2.1M74.45 100.4v-1.8M74.45 133.6v2.1M92.9 100.4v-1.8M92.9 133.6v2.1M111.35 100.4v-1.8M111.35 133.6v2.1M129.8 100.4v-1.8M129.8 133.6v2.1M148.25 100.4v-1.8M148.25 133.6v2.1M166.7 100.4v-1.8M166.7 133.6v2.1M19.1 102.84h-0.9M19.1 106.62h-0.9M19.1 110.4h-1.8M171.7 110.4h1.6M19.1 114.18h-0.9M19.1 117.96h-0.9M19.1 121.74h-0.9M19.1 125.52h-0.9M19.1 129.3h-1.8M171.7 129.3h1.6M19.1 133.08h-0.9" stroke="#2b2b2b" stroke-width="0.5" fill="none"/>
<rect x="19.1" y="146.1" width="152.6" height="33.2" fill="none" stroke="#2b2b2b" stroke-width="0.7"/>
<path d="M19.1 146.1v-1.8M19.1 179.3v2.1M37.55 146.1v-1.8M37.55 179.3v2.1M56 146.1v-1.8M56 179.3v2.1M74.45 146.1v-1.8M74.45 179.3v2.1M92.9 146.1v-1.8M92.9 179.3v2.1M111.35 146.1v-1.8M111.35 179.3v2.1M129.8 146.1v-1.8M129.8 179.3v2.1M148.25 146.1v-1.8M148.25 179.3v2.1M166.7 146.1v-1.8M166.7 179.3v2.1M19.1 148.64h-0.9M19.1 152.42h-0.9M19.1 156.2h-1.8M171.7 156.2h1.6M19.1 159.98h-0.9M19.1 163.76h-0.9M19.1 167.54h-0.9M19.1 171.32h-0.9M19.1 175.1h-1.8M171.7 175.1h1.6" stroke="#2b2b2b" stroke-width="0.5" fill="none"/>
<rect x="19.1" y="191.2" width="152.6" height="33.9" fill="none" stroke="#2b2b2b" stroke-width="0.7"/>
<path d="M19.1 191.2v-1.8M19.1 225.1v2.1M37.55 191.2v-1.8M37.55 225.1v2.1M56 191.2v-1.8M56 225.1v2.1M74.45 191.2v-1.8M74.45 225.1v2.1M92.9 191.2v-1.8M92.9 225.1v2.1M111.35 191.2v-1.8M111.35 225.1v2.1M129.8 191.2v-1.8M129.8 225.1v2.1M148.25 191.2v-1.8M148.25 225.1v2.1M166.7 191.2v-1.8M166.7 225.1v2.1M19.1 193.94h-0.9M19.1 197.72h-0.9M19.1 201.5h-1.8M171.7 201.5h1.6M19.1 205.28h-0.9M19.1 209.06h-0.9M19.1 212.84h-0.9M19.1 216.62h-0.9M19.1 220.4h-1.8M171.7 220.4h1.6M19.1 224.18h-0.9" stroke="#2b2b2b" stroke-width="0.5" fill="none"/>
<rect x="187.5" y="19.4" width="149.2" height="33.9" fill="none" stroke="#2b2b2b" stroke-width="0.7"/>
<path d="M187.5 19.4v-1.8M187.5 53.3v2.1M205.6 19.4v-1.8M205.6 53.3v2.1M223.7 19.4v-1.8M223.7 53.3v2.1M241.8 19.4v-1.8M241.8 53.3v2.1M259.9 19.4v-1.8M259.9 53.3v2.1M278 19.4v-1.8M278 53.3v2.1M296.1 19.4v-1.8M296.1 53.3v2.1M314.2 19.4v-1.8M314.2 53.3v2.1M332.3 19.4v-1.8M332.3 53.3v2.1M187.5 22.64h-0.9M187.5 26.32h-0.9M187.5 30h-1.8M336.7 30h1.6M187.5 33.68h-0.9M187.5 37.36h-0.9M187.5 41.04h-0.9M187.5 44.72h-0.9M187.5 48.4h-1.8M336.7 48.4h1.6M187.5 52.08h-0.9" stroke="#2b2b2b" stroke-width="0.5" fill="none"/>
<rect x="187.5" y="99.4" width="149.2" height="33.5" fill="none" stroke="#2b2b2b" stroke-width="0.7"/>
<path d="M187.5 99.4v-1.8M187.5 132.9v2.1M205.6 99.4v-1.8M205.6 132.9v2.1M223.7 99.4v-1.8M223.7 132.9v2.1M241.8 99.4v-1.8M241.8 132.9v2.1M259.9 99.4v-1.8M259.9 132.9v2.1M278 99.4v-1.8M278 132.9v2.1M296.1 99.4v-1.8M296.1 132.9v2.1M314.2 99.4v-1.8M314.2 132.9v2.1M332.3 99.4v-1.8M332.3 132.9v2.1M187.5 102.7h-0.9M187.5 106.4h-0.9M187.5 110.1h-1.8M336.7 110.1h1.6M187.5 113.8h-0.9M187.5 117.5h-0.9M187.5 121.2h-0.9M187.5 124.9h-0.9M187.5 128.6h-1.8M336.7 128.6h1.6M187.5 132.3h-0.9" stroke="#2b2b2b" stroke-width="0.5" fill="none"/>
<rect x="187.5" y="145.3" width="149.2" height="33.2" fill="none" stroke="#2b2b2b" stroke-width="0.7"/>
<path d="M187.5 145.3v-1.8M187.5 178.5v2.1M205.6 145.3v-1.8M205.6 178.5v2.1M223.7 145.3v-1.8M223.7 178.5v2.1M241.8 145.3v-1.8M241.8 178.5v2.1M259.9 145.3v-1.8M259.9 178.5v2.1M278 145.3v-1.8M278 178.5v2.1M296.1 145.3v-1.8M296.1 178.5v2.1M314.2 145.3v-1.8M314.2 178.5v2.1M332.3 145.3v-1.8M332.3 178.5v2.1M187.5 148.6h-0.9M187.5 152.3h-0.9M187.5 156h-1.8M336.7 156h1.6M187.5 159.7h-0.9M187.5 163.4h-0.9M187.5 167.1h-0.9M187.5 170.8h-0.9M187.5 174.5h-1.8M336.7 174.5h1.6" stroke="#2b2b2b" stroke-width="0.5" fill="none"/>
<rect x="187.5" y="190.7" width="149.2" height="33.1" fill="none" stroke="#2b2b2b" stroke-width="0.7"/>
<path d="M187.5 190.7v-1.8M187.5 223.8v2.1M205.6 190.7v-1.8M205.6 223.8v2.1M223.7 190.7v-1.8M223.7 223.8v2.1M241.8 190.7v-1.8M241.8 223.8v2.1M259.9 190.7v-1.8M259.9 223.8v2.1M278 190.7v-1.8M278 223.8v2.1M296.1 190.7v-1.8M296.1 223.8v2.1M314.2 190.7v-1.8M314.2 223.8v2.1M332.3 190.7v-1.8M332.3 223.8v2.1M187.5 194h-0.9M187.5 197.7h-0.9M187.5 201.4h-1.8M336.7 201.4h1.6M187.5 205.1h-0.9M187.5 208.8h-0.9M187.5 212.5h-0.9M187.5 216.2h-0.9M187.5 219.9h-1.8M336.7 219.9h1.6" stroke="#2b2b2b" stroke-width="0.5" fill="none"/>
<rect x="352.3" y="19" width="138.9" height="34.2" fill="none" stroke="#2b2b2b" stroke-width="0.7"/>
<path d="M352.2 19v-1.8M352.2 53.2v2.1M369 19v-1.8M369 53.2v2.1M385.8 19v-1.8M385.8 53.2v2.1M402.6 19v-1.8M402.6 53.2v2.1M419.4 19v-1.8M419.4 53.2v2.1M436.2 19v-1.8M436.2 53.2v2.1M453 19v-1.8M453 53.2v2.1M469.8 19v-1.8M469.8 53.2v2.1M486.6 19v-1.8M486.6 53.2v2.1M352.3 19.92h-0.9M352.3 23h-1.8M491.2 23h1.6M352.3 26.08h-0.9M352.3 29.16h-0.9M352.3 32.24h-0.9M352.3 35.32h-0.9M352.3 38.4h-1.8M491.2 38.4h1.6M352.3 41.48h-0.9M352.3 44.56h-0.9M352.3 47.64h-0.9M352.3 50.72h-0.9" stroke="#2b2b2b" stroke-width="0.5" fill="none"/>
<rect x="352.3" y="145.2" width="138.9" height="33.9" fill="none" stroke="#2b2b2b" stroke-width="0.7"/>
<path d="M352.2 145.2v-1.8M352.2 179.1v2.1M369 145.2v-1.8M369 179.1v2.1M385.8 145.2v-1.8M385.8 179.1v2.1M402.6 145.2v-1.8M402.6 179.1v2.1M419.4 145.2v-1.8M419.4 179.1v2.1M436.2 145.2v-1.8M436.2 179.1v2.1M453 145.2v-1.8M453 179.1v2.1M469.8 145.2v-1.8M469.8 179.1v2.1M486.6 145.2v-1.8M486.6 179.1v2.1M352.3 145.98h-0.9M352.3 149.1h-1.8M491.2 149.1h1.6M352.3 152.22h-0.9M352.3 155.34h-0.9M352.3 158.46h-0.9M352.3 161.58h-0.9M352.3 164.7h-1.8M491.2 164.7h1.6M352.3 167.82h-0.9M352.3 170.94h-0.9M352.3 174.06h-0.9M352.3 177.18h-0.9" stroke="#2b2b2b" stroke-width="0.5" fill="none"/>
<rect x="352.3" y="190.7" width="138.9" height="33.2" fill="none" stroke="#2b2b2b" stroke-width="0.7"/>
<path d="M352.2 190.7v-1.8M352.2 223.9v2.1M369 190.7v-1.8M369 223.9v2.1M385.8 190.7v-1.8M385.8 223.9v2.1M402.6 190.7v-1.8M402.6 223.9v2.1M419.4 190.7v-1.8M419.4 223.9v2.1M436.2 190.7v-1.8M436.2 223.9v2.1M453 190.7v-1.8M453 223.9v2.1M469.8 190.7v-1.8M469.8 223.9v2.1M486.6 190.7v-1.8M486.6 223.9v2.1M352.3 191.48h-0.9M352.3 194.6h-1.8M491.2 194.6h1.6M352.3 197.72h-0.9M352.3 200.84h-0.9M352.3 203.96h-0.9M352.3 207.08h-0.9M352.3 210.2h-1.8M491.2 210.2h1.6M352.3 213.32h-0.9M352.3 216.44h-0.9M352.3 219.56h-0.9M352.3 222.68h-0.9" stroke="#2b2b2b" stroke-width="0.5" fill="none"/>
<rect x="505.6" y="19.8" width="149.2" height="33.1" fill="none" stroke="#2b2b2b" stroke-width="0.7"/>
<path d="M505.5 19.8v-1.8M505.5 52.9v2.1M523.5 19.8v-1.8M523.5 52.9v2.1M541.5 19.8v-1.8M541.5 52.9v2.1M559.5 19.8v-1.8M559.5 52.9v2.1M577.5 19.8v-1.8M577.5 52.9v2.1M595.5 19.8v-1.8M595.5 52.9v2.1M613.5 19.8v-1.8M613.5 52.9v2.1M631.5 19.8v-1.8M631.5 52.9v2.1M649.5 19.8v-1.8M649.5 52.9v2.1M505.6 23.36h-0.9M505.6 26.98h-0.9M505.6 30.6h-1.8M654.8 30.6h1.6M505.6 34.22h-0.9M505.6 37.84h-0.9M505.6 41.46h-0.9M505.6 45.08h-0.9M505.6 48.7h-1.8M654.8 48.7h1.6M505.6 52.32h-0.9" stroke="#2b2b2b" stroke-width="0.5" fill="none"/>
<rect x="505.6" y="99.4" width="149.2" height="33.5" fill="none" stroke="#2b2b2b" stroke-width="0.7"/>
<path d="M505.5 99.4v-1.8M505.5 132.9v2.1M523.5 99.4v-1.8M523.5 132.9v2.1M541.5 99.4v-1.8M541.5 132.9v2.1M559.5 99.4v-1.8M559.5 132.9v2.1M577.5 99.4v-1.8M577.5 132.9v2.1M595.5 99.4v-1.8M595.5 132.9v2.1M613.5 99.4v-1.8M613.5 132.9v2.1M631.5 99.4v-1.8M631.5 132.9v2.1M649.5 99.4v-1.8M649.5 132.9v2.1M505.6 102.56h-0.9M505.6 106.28h-0.9M505.6 110h-1.8M654.8 110h1.6M505.6 113.72h-0.9M505.6 117.44h-0.9M505.6 121.16h-0.9M505.6 124.88h-0.9M505.6 128.6h-1.8M654.8 128.6h1.6M505.6 132.32h-0.9" stroke="#2b2b2b" stroke-width="0.5" fill="none"/>
<rect x="505.6" y="144.6" width="149.2" height="33.6" fill="none" stroke="#2b2b2b" stroke-width="0.7"/>
<path d="M505.5 144.6v-1.8M505.5 178.2v2.1M523.5 144.6v-1.8M523.5 178.2v2.1M541.5 144.6v-1.8M541.5 178.2v2.1M559.5 144.6v-1.8M559.5 178.2v2.1M577.5 144.6v-1.8M577.5 178.2v2.1M595.5 144.6v-1.8M595.5 178.2v2.1M613.5 144.6v-1.8M613.5 178.2v2.1M631.5 144.6v-1.8M631.5 178.2v2.1M649.5 144.6v-1.8M649.5 178.2v2.1M505.6 147.76h-0.9M505.6 151.48h-0.9M505.6 155.2h-1.8M654.8 155.2h1.6M505.6 158.92h-0.9M505.6 162.64h-0.9M505.6 166.36h-0.9M505.6 170.08h-0.9M505.6 173.8h-1.8M654.8 173.8h1.6M505.6 177.52h-0.9" stroke="#2b2b2b" stroke-width="0.5" fill="none"/>
<rect x="505.6" y="19.8" width="149.2" height="1.3" fill="#8c8c8c"/>
<text x="19.1" y="60.7" font-size="4.9" text-anchor="middle" font-weight="normal" fill="#2a2a2a">0</text>
<text x="37.55" y="60.7" font-size="4.9" text-anchor="middle" font-weight="normal" fill="#2a2a2a">5</text>
<text x="56" y="60.7" font-size="4.9" text-anchor="middle" font-weight="normal" fill="#2a2a2a">10</text>
<text x="74.45" y="60.7" font-size="4.9" text-anchor="middle" font-weight="normal" fill="#2a2a2a">15</text>
<text x="92.9" y="60.7" font-size="4.9" text-anchor="middle" font-weight="normal" fill="#2a2a2a">20</text>
<text x="111.35" y="60.7" font-size="4.9" text-anchor="middle" font-weight="normal" fill="#2a2a2a">25</text>
<text x="129.8" y="60.7" font-size="4.9" text-anchor="middle" font-weight="normal" fill="#2a2a2a">30</text>
<text x="148.25" y="60.7" font-size="4.9" text-anchor="middle" font-weight="normal" fill="#2a2a2a">35</text>
<text x="166.7" y="60.7" font-size="4.9" text-anchor="middle" font-weight="normal" fill="#2a2a2a">40</text>
<text x="19.1" y="232" font-size="4.9" text-anchor="middle" font-weight="normal" fill="#2a2a2a">0</text>
<text x="37.55" y="232" font-size="4.9" text-anchor="middle" font-weight="normal" fill="#2a2a2a">5</text>
<text x="56" y="232" font-size="4.9" text-anchor="middle" font-weight="normal" fill="#2a2a2a">10</text>
<text x="74.45" y="232" font-size="4.9" text-anchor="middle" font-weight="normal" fill="#2a2a2a">15</text>
<text x="92.9" y="232" font-size="4.9" text-anchor="middle" font-weight="normal" fill="#2a2a2a">20</text>
<text x="111.35" y="232" font-size="4.9" text-anchor="middle" font-weight="normal" fill="#2a2a2a">25</text>
<text x="129.8" y="232" font-size="4.9" text-anchor="middle" font-weight="normal" fill="#2a2a2a">30</text>
<text x="148.25" y="232" font-size="4.9" text-anchor="middle" font-weight="normal" fill="#2a2a2a">35</text>
<text x="166.7" y="232" font-size="4.9" text-anchor="middle" font-weight="normal" fill="#2a2a2a">40</text>
<text x="187.5" y="60.5" font-size="4.9" text-anchor="middle" font-weight="normal" fill="#2a2a2a">0</text>
<text x="205.6" y="60.5" font-size="4.9" text-anchor="middle" font-weight="normal" fill="#2a2a2a">5</text>
<text x="223.7" y="60.5" font-size="4.9" text-anchor="middle" font-weight="normal" fill="#2a2a2a">10</text>
<text x="241.8" y="60.5" font-size="4.9" text-anchor="middle" font-weight="normal" fill="#2a2a2a">15</text>
<text x="259.9" y="60.5" font-size="4.9" text-anchor="middle" font-weight="normal" fill="#2a2a2a">20</text>
<text x="278" y="60.5" font-size="4.9" text-anchor="middle" font-weight="normal" fill="#2a2a2a">25</text>
<text x="296.1" y="60.5" font-size="4.9" text-anchor="middle" font-weight="normal" fill="#2a2a2a">30</text>
<text x="314.2" y="60.5" font-size="4.9" text-anchor="middle" font-weight="normal" fill="#2a2a2a">35</text>
<text x="332.3" y="60.5" font-size="4.9" text-anchor="middle" font-weight="normal" fill="#2a2a2a">40</text>
<text x="187.5" y="231.5" font-size="4.9" text-anchor="middle" font-weight="normal" fill="#2a2a2a">0</text>
<text x="205.6" y="231.5" font-size="4.9" text-anchor="middle" font-weight="normal" fill="#2a2a2a">5</text>
<text x="223.7" y="231.5" font-size="4.9" text-anchor="middle" font-weight="normal" fill="#2a2a2a">10</text>
<text x="241.8" y="231.5" font-size="4.9" text-anchor="middle" font-weight="normal" fill="#2a2a2a">15</text>
<text x="259.9" y="231.5" font-size="4.9" text-anchor="middle" font-weight="normal" fill="#2a2a2a">20</text>
<text x="278" y="231.5" font-size="4.9" text-anchor="middle" font-weight="normal" fill="#2a2a2a">25</text>
<text x="296.1" y="231.5" font-size="4.9" text-anchor="middle" font-weight="normal" fill="#2a2a2a">30</text>
<text x="314.2" y="231.5" font-size="4.9" text-anchor="middle" font-weight="normal" fill="#2a2a2a">35</text>
<text x="332.3" y="231.5" font-size="4.9" text-anchor="middle" font-weight="normal" fill="#2a2a2a">40</text>
<text x="352.2" y="59" font-size="4.9" text-anchor="middle" font-weight="normal" fill="#2a2a2a">0</text>
<text x="369" y="59" font-size="4.9" text-anchor="middle" font-weight="normal" fill="#2a2a2a">5</text>
<text x="385.8" y="59" font-size="4.9" text-anchor="middle" font-weight="normal" fill="#2a2a2a">10</text>
<text x="402.6" y="59" font-size="4.9" text-anchor="middle" font-weight="normal" fill="#2a2a2a">15</text>
<text x="419.4" y="59" font-size="4.9" text-anchor="middle" font-weight="normal" fill="#2a2a2a">20</text>
<text x="436.2" y="59" font-size="4.9" text-anchor="middle" font-weight="normal" fill="#2a2a2a">25</text>
<text x="453" y="59" font-size="4.9" text-anchor="middle" font-weight="normal" fill="#2a2a2a">30</text>
<text x="469.8" y="59" font-size="4.9" text-anchor="middle" font-weight="normal" fill="#2a2a2a">35</text>
<text x="486.6" y="59" font-size="4.9" text-anchor="middle" font-weight="normal" fill="#2a2a2a">40</text>
<text x="352.2" y="230.6" font-size="4.9" text-anchor="middle" font-weight="normal" fill="#2a2a2a">0</text>
<text x="369" y="230.6" font-size="4.9" text-anchor="middle" font-weight="normal" fill="#2a2a2a">5</text>
<text x="385.8" y="230.6" font-size="4.9" text-anchor="middle" font-weight="normal" fill="#2a2a2a">10</text>
<text x="402.6" y="230.6" font-size="4.9" text-anchor="middle" font-weight="normal" fill="#2a2a2a">15</text>
<text x="419.4" y="230.6" font-size="4.9" text-anchor="middle" font-weight="normal" fill="#2a2a2a">20</text>
<text x="436.2" y="230.6" font-size="4.9" text-anchor="middle" font-weight="normal" fill="#2a2a2a">25</text>
<text x="453" y="230.6" font-size="4.9" text-anchor="middle" font-weight="normal" fill="#2a2a2a">30</text>
<text x="469.8" y="230.6" font-size="4.9" text-anchor="middle" font-weight="normal" fill="#2a2a2a">35</text>
<text x="486.6" y="230.6" font-size="4.9" text-anchor="middle" font-weight="normal" fill="#2a2a2a">40</text>
<text x="505.5" y="60.2" font-size="4.9" text-anchor="middle" font-weight="normal" fill="#2a2a2a">0</text>
<text x="523.5" y="60.2" font-size="4.9" text-anchor="middle" font-weight="normal" fill="#2a2a2a">5</text>
<text x="541.5" y="60.2" font-size="4.9" text-anchor="middle" font-weight="normal" fill="#2a2a2a">10</text>
<text x="559.5" y="60.2" font-size="4.9" text-anchor="middle" font-weight="normal" fill="#2a2a2a">15</text>
<text x="577.5" y="60.2" font-size="4.9" text-anchor="middle" font-weight="normal" fill="#2a2a2a">20</text>
<text x="595.5" y="60.2" font-size="4.9" text-anchor="middle" font-weight="normal" fill="#2a2a2a">25</text>
<text x="613.5" y="60.2" font-size="4.9" text-anchor="middle" font-weight="normal" fill="#2a2a2a">30</text>
<text x="631.5" y="60.2" font-size="4.9" text-anchor="middle" font-weight="normal" fill="#2a2a2a">35</text>
<text x="649.5" y="60.2" font-size="4.9" text-anchor="middle" font-weight="normal" fill="#2a2a2a">40</text>
<text x="505.5" y="185" font-size="4.9" text-anchor="middle" font-weight="normal" fill="#2a2a2a">0</text>
<text x="523.5" y="185" font-size="4.9" text-anchor="middle" font-weight="normal" fill="#2a2a2a">5</text>
<text x="541.5" y="185" font-size="4.9" text-anchor="middle" font-weight="normal" fill="#2a2a2a">10</text>
<text x="559.5" y="185" font-size="4.9" text-anchor="middle" font-weight="normal" fill="#2a2a2a">15</text>
<text x="577.5" y="185" font-size="4.9" text-anchor="middle" font-weight="normal" fill="#2a2a2a">20</text>
<text x="595.5" y="185" font-size="4.9" text-anchor="middle" font-weight="normal" fill="#2a2a2a">25</text>
<text x="613.5" y="185" font-size="4.9" text-anchor="middle" font-weight="normal" fill="#2a2a2a">30</text>
<text x="631.5" y="185" font-size="4.9" text-anchor="middle" font-weight="normal" fill="#2a2a2a">35</text>
<text x="649.5" y="185" font-size="4.9" text-anchor="middle" font-weight="normal" fill="#2a2a2a">40</text>
<text x="16.8" y="31.7" font-size="4.7" text-anchor="end" font-weight="normal" fill="#2a2a2a">325</text>
<text x="16.8" y="50" font-size="4.7" text-anchor="end" font-weight="normal" fill="#2a2a2a">320</text>
<text x="16.8" y="112.1" font-size="4.7" text-anchor="end" font-weight="normal" fill="#2a2a2a">325</text>
<text x="16.8" y="131.2" font-size="4.7" text-anchor="end" font-weight="normal" fill="#2a2a2a">320</text>
<text x="185.2" y="31.7" font-size="4.7" text-anchor="end" font-weight="normal" fill="#2a2a2a">320</text>
<text x="185.2" y="50.1" font-size="4.7" text-anchor="end" font-weight="normal" fill="#2a2a2a">315</text>
<text x="185.2" y="111.8" font-size="4.7" text-anchor="end" font-weight="normal" fill="#2a2a2a">320</text>
<text x="185.2" y="130.3" font-size="4.7" text-anchor="end" font-weight="normal" fill="#2a2a2a">315</text>
<text x="350" y="24.7" font-size="4.7" text-anchor="end" font-weight="normal" fill="#2a2a2a">330</text>
<text x="350" y="40.1" font-size="4.7" text-anchor="end" font-weight="normal" fill="#2a2a2a">325</text>
<text x="350" y="150.8" font-size="4.7" text-anchor="end" font-weight="normal" fill="#2a2a2a">330</text>
<text x="350" y="166.4" font-size="4.7" text-anchor="end" font-weight="normal" fill="#2a2a2a">325</text>
<text x="503.3" y="32.3" font-size="4.7" text-anchor="end" font-weight="normal" fill="#2a2a2a">325</text>
<text x="503.3" y="50.4" font-size="4.7" text-anchor="end" font-weight="normal" fill="#2a2a2a">320</text>
<text x="503.3" y="111.7" font-size="4.7" text-anchor="end" font-weight="normal" fill="#2a2a2a">325</text>
<text x="503.3" y="130.3" font-size="4.7" text-anchor="end" font-weight="normal" fill="#2a2a2a">320</text>
<text x="86.9" y="6" font-size="5.7" text-anchor="middle" font-weight="normal" fill="#2a2a2a">Grassland</text>
<text x="240.8" y="6.4" font-size="5.7" text-anchor="middle" font-weight="normal" fill="#2a2a2a">Encroached</text>
<text x="430.3" y="5.1" font-size="5.6" text-anchor="middle" font-weight="normal" fill="#2a2a2a">Juniper woodland</text>
<text x="571.8" y="5.9" font-size="5.6" text-anchor="middle" font-weight="normal" fill="#2a2a2a">Oak forest</text>
<text x="19.6" y="15.9" font-size="5" text-anchor="start" font-weight="normal" fill="#2a2a2a">G1LO-0606</text>
<text x="188" y="15.9" font-size="5" text-anchor="start" font-weight="normal" fill="#2a2a2a">E1LO-0613</text>
<text x="354.8" y="25.1" font-size="5" text-anchor="start" font-weight="normal" fill="#2a2a2a">F1LO-0627</text>
<text x="505.8" y="16.2" font-size="5" text-anchor="start" font-weight="normal" fill="#2a2a2a">O1LO-0613</text>
<text x="19.6" y="96.8" font-size="5" text-anchor="start" font-weight="normal" fill="#2a2a2a">G1LO-0606 - 0624</text>
<text x="19.6" y="141.8" font-size="5" text-anchor="start" font-weight="normal" fill="#2a2a2a">G1LO-0606 - 0703</text>
<text x="19.6" y="188.4" font-size="5" text-anchor="start" font-weight="normal" fill="#2a2a2a">G1LO-0606 - 0801</text>
<text x="188" y="95.8" font-size="5" text-anchor="start" font-weight="normal" fill="#2a2a2a">E1LO-0613 - 0624</text>
<text x="188" y="141.2" font-size="5" text-anchor="start" font-weight="normal" fill="#2a2a2a">E1LO-0613 - 0703</text>
<text x="188" y="187.5" font-size="5" text-anchor="start" font-weight="normal" fill="#2a2a2a">E1LO-0613 - 0801</text>
<text x="352.3" y="141" font-size="5" text-anchor="start" font-weight="normal" fill="#2a2a2a">F1LO-0627 - 0704</text>
<text x="352.3" y="187.4" font-size="5" text-anchor="start" font-weight="normal" fill="#2a2a2a">F1LO-0627 - 0729</text>
<text x="506.2" y="95.6" font-size="5" text-anchor="start" font-weight="normal" fill="#2a2a2a">O1LO- 06013 - 0627</text>
<text x="506.2" y="140.5" font-size="5" text-anchor="start" font-weight="normal" fill="#2a2a2a">O1LO- 06013 - 0705</text>
<text x="27.2" y="50.6" font-size="5.3" text-anchor="start" font-weight="normal" fill="#2a2a2a">6 June</text>
<text x="194" y="51.2" font-size="5.3" text-anchor="start" font-weight="normal" fill="#2a2a2a">13 June</text>
<text x="356" y="50.2" font-size="5.3" text-anchor="start" font-weight="normal" fill="#2a2a2a">27 June</text>
<text x="512" y="50.6" font-size="5.3" text-anchor="start" font-weight="normal" fill="#2a2a2a">13 June</text>
<text x="25" y="131.6" font-size="5.3" text-anchor="start" font-weight="normal" fill="#2a2a2a">24 June</text>
<text x="192" y="130.9" font-size="5.3" text-anchor="start" font-weight="normal" fill="#2a2a2a">24 June</text>
<text x="510.2" y="130.2" font-size="5.3" text-anchor="start" font-weight="normal" fill="#2a2a2a">27 June</text>
<text x="24.6" y="177.2" font-size="5.3" text-anchor="start" font-weight="normal" fill="#2a2a2a">3 July</text>
<text x="194" y="175.4" font-size="5.3" text-anchor="start" font-weight="normal" fill="#2a2a2a">3 July</text>
<text x="355" y="176.2" font-size="5.3" text-anchor="start" font-weight="normal" fill="#2a2a2a">4 July</text>
<text x="511.6" y="173.7" font-size="5.3" text-anchor="start" font-weight="normal" fill="#2a2a2a">5 July</text>
<text x="21.7" y="222.2" font-size="5.3" text-anchor="start" font-weight="normal" fill="#2a2a2a">1 August</text>
<text x="190" y="221.8" font-size="5.3" text-anchor="start" font-weight="normal" fill="#2a2a2a">1 August</text>
<text x="355.7" y="221.8" font-size="5.3" text-anchor="start" font-weight="normal" fill="#2a2a2a">29 July</text>
<text x="43.9" y="27.9" font-size="3.8" text-anchor="start" font-weight="normal" fill="#2a2a2a">Shallow bedrock</text>
<text x="237.2" y="46.8" font-size="4" text-anchor="start" font-weight="normal" fill="#2a2a2a">Competent bedrock</text>
<text x="4.8" y="36.3" font-size="5" text-anchor="middle" font-weight="normal" fill="#2a2a2a" transform="rotate(-90 4.8 36.3)">Elevation (m)</text>
<text x="94.9" y="67.2" font-size="4.9" text-anchor="middle" font-weight="normal" fill="#2a2a2a">Distance (m)</text>
<text x="94" y="241.7" font-size="4.9" text-anchor="middle" font-weight="normal" fill="#2a2a2a">Distance (m)</text>
<text x="95.5" y="91.6" font-size="4.9" text-anchor="middle" font-weight="normal" fill="#2a2a2a">Resistivity (ohm-m)</text>
<line x1="40" y1="23.5" x2="165" y2="23.5" stroke="#303030" stroke-width="0.6" stroke-dasharray="5.2 4.4"/>
<line x1="45.4" y1="39.5" x2="148" y2="39.5" stroke="#101010" stroke-width="0.8" stroke-dasharray="5.2 4.4"/>
<line x1="211.1" y1="41.5" x2="311.2" y2="41.5" stroke="#101010" stroke-width="0.8" stroke-dasharray="5.2 4.4"/>
<line x1="371" y1="42.3" x2="464.8" y2="42.3" stroke="#101010" stroke-width="0.8" stroke-dasharray="5.2 4.4"/>
<line x1="528.7" y1="40.5" x2="632.6" y2="40.5" stroke="#1a2a3a" stroke-width="0.6"/>
<path d="M244.5 41.2L249.9 36.1L255.8 41.4" fill="none" stroke="#222" stroke-width="0.5"/>
<rect x="144.5" y="16.6" width="5.2" height="12.2" rx="0.8" fill="none" stroke="#222" stroke-width="0.6"/>
<rect x="264.3" y="16.8" width="5.2" height="13.3" rx="0.8" fill="none" stroke="#222" stroke-width="0.6"/>
<rect x="559.5" y="223.5" width="5.6" height="10" rx="0.8" fill="none" stroke="#222" stroke-width="0.6"/>
<path d="M143.9 108.2h6.8M147.3 104.8v6.8" stroke="#1a1a1a" stroke-width="0.6" fill="none"/>
<path d="M143.5 154.2h6.8M146.9 150.8v6.8" stroke="#1a1a1a" stroke-width="0.6" fill="none"/>
<path d="M142.4 199.6h6.8M145.8 196.2v6.8" stroke="#1a1a1a" stroke-width="0.6" fill="none"/>
<path d="M264 108.7h6.8M267.4 105.3v6.8" stroke="#1a1a1a" stroke-width="0.6" fill="none"/>
<path d="M264.3 156.6h6.8M267.7 153.2v6.8" stroke="#1a1a1a" stroke-width="0.6" fill="none"/>
<path d="M264 201.1h6.8M267.4 197.7v6.8" stroke="#1a1a1a" stroke-width="0.6" fill="none"/>
<path d="M504.9 228.3h7M508.4 224.8v7" stroke="#1a1a1a" stroke-width="0.6" fill="none"/>
<text x="514.2" y="229.9" font-size="5.4" text-anchor="start" font-weight="normal" fill="#2a2a2a">Perched aquifer</text>
<text x="567" y="231.1" font-size="5.6" text-anchor="start" font-weight="normal" fill="#2a2a2a">Well</text>
<rect x="39.6" y="69.3" width="12.8" height="6.3" fill="#2d0fc3" stroke="#111" stroke-width="0.6"/>
<rect x="52.4" y="69.3" width="12.8" height="6.3" fill="#0aa0f5" stroke="#111" stroke-width="0.6"/>
<rect x="65.2" y="69.3" width="12.8" height="6.3" fill="#2daffa" stroke="#111" stroke-width="0.6"/>
<rect x="78" y="69.3" width="12.8" height="6.3" fill="#5fc3fa" stroke="#111" stroke-width="0.6"/>
<rect x="90.8" y="69.3" width="12.8" height="6.3" fill="#646464" stroke="#111" stroke-width="0.6"/>
<rect x="103.6" y="69.3" width="12.8" height="6.3" fill="#a5a5a5" stroke="#111" stroke-width="0.6"/>
<rect x="116.4" y="69.3" width="12.8" height="6.3" fill="#ff9b69" stroke="#111" stroke-width="0.6"/>
<rect x="129.2" y="69.3" width="12.8" height="6.3" fill="#ff6937" stroke="#111" stroke-width="0.6"/>
<text x="38.1" y="76.9" font-size="4.4" text-anchor="start" font-weight="normal" fill="#2a2a2a" transform="rotate(90 38.1 76.9)">8</text>
<text x="50.9" y="76.9" font-size="4.4" text-anchor="start" font-weight="normal" fill="#2a2a2a" transform="rotate(90 50.9 76.9)">25</text>
<text x="63.7" y="76.9" font-size="4.4" text-anchor="start" font-weight="normal" fill="#2a2a2a" transform="rotate(90 63.7 76.9)">50</text>
<text x="76.5" y="76.9" font-size="4.4" text-anchor="start" font-weight="normal" fill="#2a2a2a" transform="rotate(90 76.5 76.9)">100</text>
<text x="89.3" y="76.9" font-size="4.4" text-anchor="start" font-weight="normal" fill="#2a2a2a" transform="rotate(90 89.3 76.9)">150</text>
<text x="102.1" y="76.9" font-size="4.4" text-anchor="start" font-weight="normal" fill="#2a2a2a" transform="rotate(90 102.1 76.9)">200</text>
<text x="114.9" y="76.9" font-size="4.4" text-anchor="start" font-weight="normal" fill="#2a2a2a" transform="rotate(90 114.9 76.9)">300</text>
<text x="127.7" y="76.9" font-size="4.4" text-anchor="start" font-weight="normal" fill="#2a2a2a" transform="rotate(90 127.7 76.9)">400</text>
<rect x="507" y="191.0" width="9.32" height="7.4" fill="#6e323c" stroke="#111" stroke-width="0.6"/>
<rect x="516.32" y="191.0" width="9.32" height="7.4" fill="#823c0a" stroke="#111" stroke-width="0.6"/>
<rect x="525.64" y="191.0" width="9.32" height="7.4" fill="#aa6932" stroke="#111" stroke-width="0.6"/>
<rect x="534.96" y="191.0" width="9.32" height="7.4" fill="#ff6932" stroke="#111" stroke-width="0.6"/>
<rect x="544.28" y="191.0" width="9.32" height="7.4" fill="#d76932" stroke="#111" stroke-width="0.6"/>
<rect x="553.6" y="191.0" width="9.32" height="7.4" fill="#bebebe" stroke="#111" stroke-width="0.6"/>
<rect x="562.92" y="191.0" width="9.32" height="7.4" fill="#d764fa" stroke="#111" stroke-width="0.6"/>
<rect x="572.24" y="191.0" width="9.32" height="7.4" fill="#c832f0" stroke="#111" stroke-width="0.6"/>
<rect x="581.56" y="191.0" width="9.32" height="7.4" fill="#a000a0" stroke="#111" stroke-width="0.6"/>
<rect x="590.88" y="191.0" width="9.32" height="7.4" fill="#3c0096" stroke="#111" stroke-width="0.6"/>
<rect x="600.2" y="191.0" width="9.32" height="7.4" fill="#0032a0" stroke="#111" stroke-width="0.6"/>
<rect x="609.52" y="191.0" width="9.32" height="7.4" fill="#0000ff" stroke="#111" stroke-width="0.6"/>
<text x="504" y="200" font-size="6" text-anchor="start" font-weight="normal" fill="#2a2a2a" transform="rotate(90 504 200)">-100</text>
<text x="513.32" y="200" font-size="6" text-anchor="start" font-weight="normal" fill="#2a2a2a" transform="rotate(90 513.32 200)">-70</text>
<text x="522.64" y="200" font-size="6" text-anchor="start" font-weight="normal" fill="#2a2a2a" transform="rotate(90 522.64 200)">-50</text>
<text x="531.96" y="200" font-size="6" text-anchor="start" font-weight="normal" fill="#2a2a2a" transform="rotate(90 531.96 200)">-30</text>
<text x="541.28" y="200" font-size="6" text-anchor="start" font-weight="normal" fill="#2a2a2a" transform="rotate(90 541.28 200)">-10</text>
<text x="550.6" y="200" font-size="6" text-anchor="start" font-weight="normal" fill="#2a2a2a" transform="rotate(90 550.6 200)">-5</text>
<text x="559.92" y="200" font-size="6" text-anchor="start" font-weight="normal" fill="#2a2a2a" transform="rotate(90 559.92 200)">5</text>
<text x="569.24" y="200" font-size="6" text-anchor="start" font-weight="normal" fill="#2a2a2a" transform="rotate(90 569.24 200)">10</text>
<text x="578.56" y="200" font-size="6" text-anchor="start" font-weight="normal" fill="#2a2a2a" transform="rotate(90 578.56 200)">30</text>
<text x="587.88" y="200" font-size="6" text-anchor="start" font-weight="normal" fill="#2a2a2a" transform="rotate(90 587.88 200)">50</text>
<text x="597.2" y="200" font-size="6" text-anchor="start" font-weight="normal" fill="#2a2a2a" transform="rotate(90 597.2 200)">70</text>
<text x="606.52" y="200" font-size="6" text-anchor="start" font-weight="normal" fill="#2a2a2a" transform="rotate(90 606.52 200)">100</text>
<text x="512.8" y="218.6" font-size="6.4" text-anchor="start" font-weight="bold" fill="#2a2a2a">% Change in conductivity</text>
<line x1="659" y1="19.2" x2="659" y2="53.4" stroke="#2b2b2b" stroke-width="0.7"/>
<line x1="659" y1="19.4" x2="661.6" y2="19.4" stroke="#2b2b2b" stroke-width="0.5"/>
<text x="665.2" y="20.15" font-size="4.4" text-anchor="middle" font-weight="normal" fill="#2a2a2a">0</text>
<line x1="659" y1="24.6" x2="661.6" y2="24.6" stroke="#2b2b2b" stroke-width="0.5"/>
<text x="665.2" y="25.95" font-size="4.4" text-anchor="middle" font-weight="normal" fill="#2a2a2a">1</text>
<line x1="659" y1="31.1" x2="661.6" y2="31.1" stroke="#2b2b2b" stroke-width="0.5"/>
<text x="665.2" y="32.75" font-size="4.4" text-anchor="middle" font-weight="normal" fill="#2a2a2a">3</text>
<line x1="659" y1="48.9" x2="661.6" y2="48.9" stroke="#2b2b2b" stroke-width="0.5"/>
<text x="665.2" y="50.85" font-size="4.4" text-anchor="middle" font-weight="normal" fill="#2a2a2a">8</text>
<text x="672.5" y="38.8" font-size="4.8" text-anchor="middle" font-weight="normal" fill="#2a2a2a" transform="rotate(-90 672.5 38.8)">Depth</text>
<g fill="#4b5e1f">
<ellipse cx="264.3" cy="10.25" rx="2.52" ry="2.39"/>
<ellipse cx="262.51" cy="11.6" rx="2.62" ry="2.49"/>
<ellipse cx="266.09" cy="11.6" rx="2.62" ry="2.49"/>
<ellipse cx="264.3" cy="11.86" rx="3.15" ry="2.99"/>
<ellipse cx="261.05" cy="13.16" rx="2.1" ry="1.99"/>
<ellipse cx="267.56" cy="13.16" rx="2.1" ry="1.99"/>
<ellipse cx="263.25" cy="13.16" rx="2.31" ry="2.19"/>
<ellipse cx="265.35" cy="13.16" rx="2.31" ry="2.19"/>
<path d="M263.1 13.68L265.5 13.68L264.9 16.8L263.7 16.8Z"/>
</g>
<g fill="#4b5e1f">
<ellipse cx="293.2" cy="8.65" rx="2.78" ry="2.64"/>
<ellipse cx="291.23" cy="10.55" rx="2.9" ry="2.75"/>
<ellipse cx="295.17" cy="10.55" rx="2.9" ry="2.75"/>
<ellipse cx="293.2" cy="10.92" rx="3.48" ry="3.31"/>
<ellipse cx="289.6" cy="12.74" rx="2.32" ry="2.2"/>
<ellipse cx="296.8" cy="12.74" rx="2.32" ry="2.2"/>
<ellipse cx="292.04" cy="12.74" rx="2.55" ry="2.42"/>
<ellipse cx="294.36" cy="12.74" rx="2.55" ry="2.42"/>
<path d="M292 13.47L294.4 13.47L293.8 16.8L292.6 16.8Z"/>
</g>
<g fill="#4b5e1f">
<ellipse cx="309.6" cy="8.65" rx="2.78" ry="2.64"/>
<ellipse cx="307.63" cy="10.55" rx="2.9" ry="2.75"/>
<ellipse cx="311.57" cy="10.55" rx="2.9" ry="2.75"/>
<ellipse cx="309.6" cy="10.92" rx="3.48" ry="3.31"/>
<ellipse cx="306" cy="12.74" rx="2.32" ry="2.2"/>
<ellipse cx="313.2" cy="12.74" rx="2.32" ry="2.2"/>
<ellipse cx="308.44" cy="12.74" rx="2.55" ry="2.42"/>
<ellipse cx="310.76" cy="12.74" rx="2.55" ry="2.42"/>
<path d="M308.4 13.47L310.8 13.47L310.2 16.8L309 16.8Z"/>
</g>
<g fill="#4b5e1f">
<ellipse cx="321.1" cy="9.41" rx="2.5" ry="2.37"/>
<ellipse cx="319.33" cy="11.05" rx="2.6" ry="2.47"/>
<ellipse cx="322.87" cy="11.05" rx="2.6" ry="2.47"/>
<ellipse cx="321.1" cy="11.37" rx="3.12" ry="2.96"/>
<ellipse cx="317.88" cy="12.94" rx="2.08" ry="1.98"/>
<ellipse cx="324.32" cy="12.94" rx="2.08" ry="1.98"/>
<ellipse cx="320.06" cy="12.94" rx="2.29" ry="2.17"/>
<ellipse cx="322.14" cy="12.94" rx="2.29" ry="2.17"/>
<path d="M319.9 13.57L322.3 13.57L321.7 16.8L320.5 16.8Z"/>
</g>
<g fill="#4b5e1f">
<ellipse cx="332.3" cy="8.35" rx="2.54" ry="2.42"/>
<ellipse cx="330.5" cy="10.35" rx="2.65" ry="2.52"/>
<ellipse cx="334.1" cy="10.35" rx="2.65" ry="2.52"/>
<ellipse cx="332.3" cy="10.74" rx="3.18" ry="3.02"/>
<ellipse cx="329.01" cy="12.66" rx="2.12" ry="2.01"/>
<ellipse cx="335.59" cy="12.66" rx="2.12" ry="2.01"/>
<ellipse cx="331.24" cy="12.66" rx="2.33" ry="2.22"/>
<ellipse cx="333.36" cy="12.66" rx="2.33" ry="2.22"/>
<path d="M331.1 13.43L333.5 13.43L332.9 16.8L331.7 16.8Z"/>
</g>
<path d="M354.7 8C355.6 11.36 356.68 14.72 356.5 16.06L355.1 16.29L355.1 19.2L354.3 19.2L354.3 16.29L352.9 16.06C352.72 14.72 353.8 11.36 354.7 8Z" fill="#4b5e1f"/>
<path d="M360 7.6C360.9 11.08 361.98 14.56 361.8 15.95L360.4 16.18L360.4 19.2L359.6 19.2L359.6 16.18L358.2 15.95C358.02 14.56 359.1 11.08 360 7.6Z" fill="#4b5e1f"/>
<path d="M363.9 8.2C364.8 11.5 365.88 14.8 365.7 16.12L364.3 16.34L364.3 19.2L363.5 19.2L363.5 16.34L362.1 16.12C361.92 14.8 363 11.5 363.9 8.2Z" fill="#4b5e1f"/>
<path d="M368.5 7.6C369.4 11.08 370.48 14.56 370.3 15.95L368.9 16.18L368.9 19.2L368.1 19.2L368.1 16.18L366.7 15.95C366.52 14.56 367.6 11.08 368.5 7.6Z" fill="#4b5e1f"/>
<path d="M372.5 7C373.4 10.66 374.48 14.32 374.3 15.78L372.9 16.03L372.9 19.2L372.1 19.2L372.1 16.03L370.7 15.78C370.52 14.32 371.6 10.66 372.5 7Z" fill="#4b5e1f"/>
<path d="M378 8C378.9 11.36 379.98 14.72 379.8 16.06L378.4 16.29L378.4 19.2L377.6 19.2L377.6 16.29L376.2 16.06C376.02 14.72 377.1 11.36 378 8Z" fill="#4b5e1f"/>
<path d="M383.6 8.2C384.5 11.5 385.58 14.8 385.4 16.12L384 16.34L384 19.2L383.2 19.2L383.2 16.34L381.8 16.12C381.62 14.8 382.7 11.5 383.6 8.2Z" fill="#4b5e1f"/>
<path d="M388.1 6.4C389 10.24 390.08 14.08 389.9 15.62L388.5 15.87L388.5 19.2L387.7 19.2L387.7 15.87L386.3 15.62C386.12 14.08 387.2 10.24 388.1 6.4Z" fill="#4b5e1f"/>
<path d="M392.4 8C393.3 11.36 394.38 14.72 394.2 16.06L392.8 16.29L392.8 19.2L392 19.2L392 16.29L390.6 16.06C390.42 14.72 391.5 11.36 392.4 8Z" fill="#4b5e1f"/>
<path d="M398.3 7.8C399.2 11.22 400.28 14.64 400.1 16.01L398.7 16.24L398.7 19.2L397.9 19.2L397.9 16.24L396.5 16.01C396.32 14.64 397.4 11.22 398.3 7.8Z" fill="#4b5e1f"/>
<path d="M402.4 7.8C403.3 11.22 404.38 14.64 404.2 16.01L402.8 16.24L402.8 19.2L402 19.2L402 16.24L400.6 16.01C400.42 14.64 401.5 11.22 402.4 7.8Z" fill="#4b5e1f"/>
<path d="M407 6.6C407.9 10.38 408.98 14.16 408.8 15.67L407.4 15.92L407.4 19.2L406.6 19.2L406.6 15.92L405.2 15.67C405.02 14.16 406.1 10.38 407 6.6Z" fill="#4b5e1f"/>
<path d="M410 7.6C410.9 11.08 411.98 14.56 411.8 15.95L410.4 16.18L410.4 19.2L409.6 19.2L409.6 16.18L408.2 15.95C408.02 14.56 409.1 11.08 410 7.6Z" fill="#4b5e1f"/>
<path d="M415.8 7C416.7 10.66 417.78 14.32 417.6 15.78L416.2 16.03L416.2 19.2L415.4 19.2L415.4 16.03L414 15.78C413.82 14.32 414.9 10.66 415.8 7Z" fill="#4b5e1f"/>
<path d="M420.5 7.4C421.4 10.94 422.48 14.48 422.3 15.9L420.9 16.13L420.9 19.2L420.1 19.2L420.1 16.13L418.7 15.9C418.52 14.48 419.6 10.94 420.5 7.4Z" fill="#4b5e1f"/>
<path d="M425.1 8.2C426 11.5 427.08 14.8 426.9 16.12L425.5 16.34L425.5 19.2L424.7 19.2L424.7 16.34L423.3 16.12C423.12 14.8 424.2 11.5 425.1 8.2Z" fill="#4b5e1f"/>
<path d="M428.8 7.2C429.7 10.8 430.78 14.4 430.6 15.84L429.2 16.08L429.2 19.2L428.4 19.2L428.4 16.08L427 15.84C426.82 14.4 427.9 10.8 428.8 7.2Z" fill="#4b5e1f"/>
<path d="M432.1 7C433 10.66 434.08 14.32 433.9 15.78L432.5 16.03L432.5 19.2L431.7 19.2L431.7 16.03L430.3 15.78C430.12 14.32 431.2 10.66 432.1 7Z" fill="#4b5e1f"/>
<path d="M436.2 6.6C437.1 10.38 438.18 14.16 438 15.67L436.6 15.92L436.6 19.2L435.8 19.2L435.8 15.92L434.4 15.67C434.22 14.16 435.3 10.38 436.2 6.6Z" fill="#4b5e1f"/>
<path d="M441 7.2C441.9 10.8 442.98 14.4 442.8 15.84L441.4 16.08L441.4 19.2L440.6 19.2L440.6 16.08L439.2 15.84C439.02 14.4 440.1 10.8 441 7.2Z" fill="#4b5e1f"/>
<path d="M446.3 7.4C447.2 10.94 448.28 14.48 448.1 15.9L446.7 16.13L446.7 19.2L445.9 19.2L445.9 16.13L444.5 15.9C444.32 14.48 445.4 10.94 446.3 7.4Z" fill="#4b5e1f"/>
<path d="M451.6 7.6C452.5 11.08 453.58 14.56 453.4 15.95L452 16.18L452 19.2L451.2 19.2L451.2 16.18L449.8 15.95C449.62 14.56 450.7 11.08 451.6 7.6Z" fill="#4b5e1f"/>
<path d="M456.7 6.6C457.6 10.38 458.68 14.16 458.5 15.67L457.1 15.92L457.1 19.2L456.3 19.2L456.3 15.92L454.9 15.67C454.72 14.16 455.8 10.38 456.7 6.6Z" fill="#4b5e1f"/>
<path d="M461.3 6.6C462.2 10.38 463.28 14.16 463.1 15.67L461.7 15.92L461.7 19.2L460.9 19.2L460.9 15.92L459.5 15.67C459.32 14.16 460.4 10.38 461.3 6.6Z" fill="#4b5e1f"/>
<path d="M466 7.4C466.9 10.94 467.98 14.48 467.8 15.9L466.4 16.13L466.4 19.2L465.6 19.2L465.6 16.13L464.2 15.9C464.02 14.48 465.1 10.94 466 7.4Z" fill="#4b5e1f"/>
<path d="M471.5 7.8C472.4 11.22 473.48 14.64 473.3 16.01L471.9 16.24L471.9 19.2L471.1 19.2L471.1 16.24L469.7 16.01C469.52 14.64 470.6 11.22 471.5 7.8Z" fill="#4b5e1f"/>
<path d="M476.7 7.4C477.6 10.94 478.68 14.48 478.5 15.9L477.1 16.13L477.1 19.2L476.3 19.2L476.3 16.13L474.9 15.9C474.72 14.48 475.8 10.94 476.7 7.4Z" fill="#4b5e1f"/>
<path d="M481.6 6.4C482.5 10.24 483.58 14.08 483.4 15.62L482 15.87L482 19.2L481.2 19.2L481.2 15.87L479.8 15.62C479.62 14.08 480.7 10.24 481.6 6.4Z" fill="#4b5e1f"/>
<path d="M486 6C486.9 9.96 487.98 13.92 487.8 15.5L486.4 15.77L486.4 19.2L485.6 19.2L485.6 15.77L484.2 15.5C484.02 13.92 485.1 9.96 486 6Z" fill="#4b5e1f"/>
<g fill="#4b5e1f">
<ellipse cx="539.8" cy="11.3" rx="6" ry="4.1"/>
<ellipse cx="537.16" cy="12.28" rx="3.6" ry="2.95"/>
<ellipse cx="542.44" cy="12.28" rx="3.6" ry="2.95"/>
<path d="M538.3 13.76L541.3 13.76L540.5 19.8L539.1 19.8Z"/>
</g>
<g fill="#4b5e1f">
<ellipse cx="552.1" cy="12" rx="5.75" ry="4"/>
<ellipse cx="549.57" cy="12.96" rx="3.45" ry="2.88"/>
<ellipse cx="554.63" cy="12.96" rx="3.45" ry="2.88"/>
<path d="M550.6 14.4L553.6 14.4L552.8 19.8L551.4 19.8Z"/>
</g>
<g fill="#4b5e1f">
<ellipse cx="565.1" cy="11.6" rx="5.75" ry="4"/>
<ellipse cx="562.57" cy="12.56" rx="3.45" ry="2.88"/>
<ellipse cx="567.63" cy="12.56" rx="3.45" ry="2.88"/>
<path d="M563.6 14L566.6 14L565.8 19.8L564.4 19.8Z"/>
</g>
<g fill="#4b5e1f">
<ellipse cx="575.5" cy="13.1" rx="4.5" ry="3.3"/>
<ellipse cx="573.52" cy="13.89" rx="2.7" ry="2.38"/>
<ellipse cx="577.48" cy="13.89" rx="2.7" ry="2.38"/>
<path d="M574 15.08L577 15.08L576.2 19.8L574.8 19.8Z"/>
</g>
<g fill="#4b5e1f">
<ellipse cx="586.6" cy="11.6" rx="5.75" ry="4"/>
<ellipse cx="584.07" cy="12.56" rx="3.45" ry="2.88"/>
<ellipse cx="589.13" cy="12.56" rx="3.45" ry="2.88"/>
<path d="M585.1 14L588.1 14L587.3 19.8L585.9 19.8Z"/>
</g>
<g fill="#4b5e1f">
<ellipse cx="599.8" cy="12" rx="5.75" ry="4"/>
<ellipse cx="597.27" cy="12.96" rx="3.45" ry="2.88"/>
<ellipse cx="602.33" cy="12.96" rx="3.45" ry="2.88"/>
<path d="M598.3 14.4L601.3 14.4L600.5 19.8L599.1 19.8Z"/>
</g>
<g fill="#4b5e1f">
<ellipse cx="610.8" cy="13.1" rx="4.2" ry="3.3"/>
<ellipse cx="608.95" cy="13.89" rx="2.52" ry="2.38"/>
<ellipse cx="612.65" cy="13.89" rx="2.52" ry="2.38"/>
<path d="M609.3 15.08L612.3 15.08L611.5 19.8L610.1 19.8Z"/>
</g>
<g fill="#4b5e1f">
<ellipse cx="622.1" cy="11.4" rx="5.9" ry="4"/>
<ellipse cx="619.5" cy="12.36" rx="3.54" ry="2.88"/>
<ellipse cx="624.7" cy="12.36" rx="3.54" ry="2.88"/>
<path d="M620.6 13.8L623.6 13.8L622.8 19.8L621.4 19.8Z"/>
</g>
<g fill="#4b5e1f">
<ellipse cx="634.2" cy="13.4" rx="4.4" ry="3.2"/>
<ellipse cx="632.26" cy="14.17" rx="2.64" ry="2.3"/>
<ellipse cx="636.14" cy="14.17" rx="2.64" ry="2.3"/>
<path d="M632.7 15.32L635.7 15.32L634.9 19.8L633.5 19.8Z"/>
</g>
<g fill="#4b5e1f">
<ellipse cx="646.1" cy="10.3" rx="5.9" ry="4.3"/>
<ellipse cx="643.5" cy="11.33" rx="3.54" ry="3.1"/>
<ellipse cx="648.7" cy="11.33" rx="3.54" ry="3.1"/>
<path d="M644.6 12.88L647.6 12.88L646.8 19.8L645.4 19.8Z"/>
</g>
</svg>
</body></html>
